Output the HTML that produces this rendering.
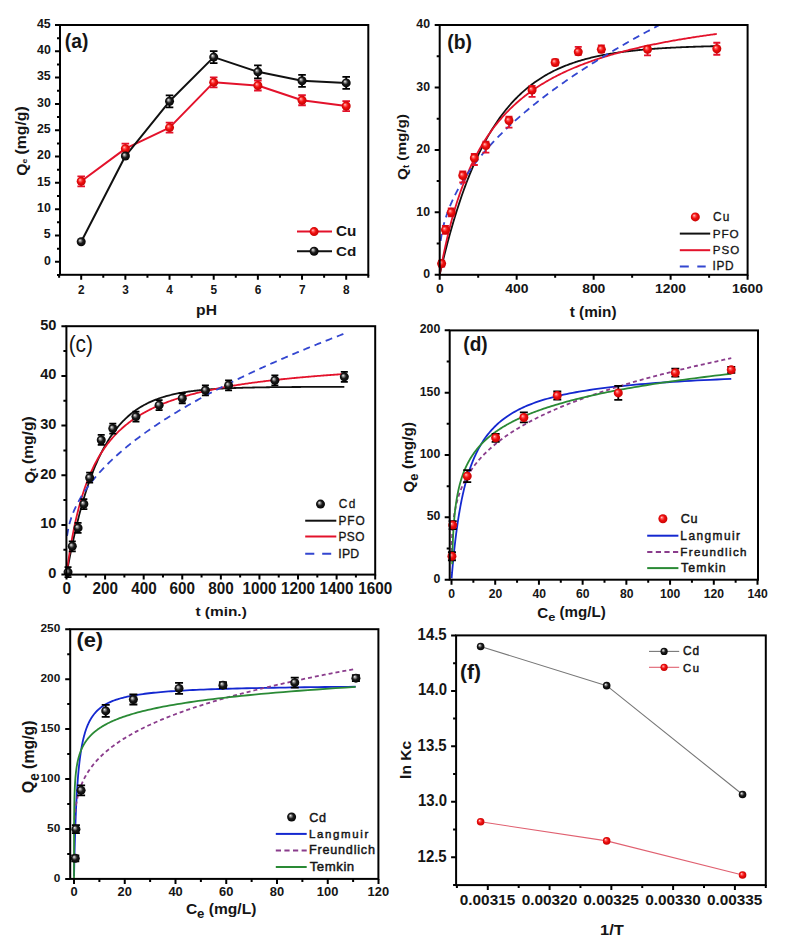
<!DOCTYPE html><html><head><meta charset="utf-8"><style>html,body{margin:0;padding:0;background:#fff;overflow:hidden}svg{display:block}</style></head><body>
<svg width="797" height="945" viewBox="0 0 797 945" font-family='"Liberation Sans", sans-serif'>
<defs>
<radialGradient id="gR" cx="0.5" cy="0.5" r="0.55" fx="0.35" fy="0.33"><stop offset="0" stop-color="#ffd8d0"/><stop offset="0.22" stop-color="#ff6060"/><stop offset="0.5" stop-color="#f01010"/><stop offset="1" stop-color="#c00000"/></radialGradient>
<radialGradient id="gK" cx="0.5" cy="0.5" r="0.55" fx="0.35" fy="0.33"><stop offset="0" stop-color="#f4f4f4"/><stop offset="0.22" stop-color="#909090"/><stop offset="0.5" stop-color="#1c1c1c"/><stop offset="1" stop-color="#000"/></radialGradient>
<clipPath id="clipa"><rect x="60.00" y="25.00" width="308.30" height="249.80"/></clipPath>
<clipPath id="clipb"><rect x="439.70" y="25.00" width="307.90" height="249.80"/></clipPath>
<clipPath id="clipc"><rect x="66.40" y="326.20" width="308.80" height="248.40"/></clipPath>
<clipPath id="clipd"><rect x="449.70" y="330.40" width="308.30" height="249.30"/></clipPath>
<clipPath id="clipe"><rect x="70.20" y="629.20" width="308.20" height="249.70"/></clipPath>
<clipPath id="clipf"><rect x="456.10" y="635.40" width="309.70" height="249.70"/></clipPath>
</defs>
<rect width="797" height="945" fill="#fff"/>
<polyline points="81.20,181.29 125.37,148.66 169.53,127.61 213.70,82.36 257.87,85.52 302.03,100.25 346.20,106.04" fill="none" stroke="#e3122b" stroke-width="2.0" stroke-linejoin="round"/>
<polyline points="81.20,241.80 125.37,156.03 169.53,101.30 213.70,57.10 257.87,71.83 302.03,80.78 346.20,82.88" fill="none" stroke="#111" stroke-width="2.0" stroke-linejoin="round"/>
<path d="M81.20 176.29V186.29M77.40 176.29h7.6M77.40 186.29h7.6" stroke="#e3122b" stroke-width="1.8" fill="none"/>
<circle cx="81.20" cy="181.29" r="4.5" fill="url(#gR)"/>
<path d="M125.37 143.66V153.66M121.57 143.66h7.6M121.57 153.66h7.6" stroke="#e3122b" stroke-width="1.8" fill="none"/>
<circle cx="125.37" cy="148.66" r="4.5" fill="url(#gR)"/>
<path d="M169.53 122.61V132.61M165.73 122.61h7.6M165.73 132.61h7.6" stroke="#e3122b" stroke-width="1.8" fill="none"/>
<circle cx="169.53" cy="127.61" r="4.5" fill="url(#gR)"/>
<path d="M213.70 77.36V87.36M209.90 77.36h7.6M209.90 87.36h7.6" stroke="#e3122b" stroke-width="1.8" fill="none"/>
<circle cx="213.70" cy="82.36" r="4.5" fill="url(#gR)"/>
<path d="M257.87 80.52V90.52M254.07 80.52h7.6M254.07 90.52h7.6" stroke="#e3122b" stroke-width="1.8" fill="none"/>
<circle cx="257.87" cy="85.52" r="4.5" fill="url(#gR)"/>
<path d="M302.03 95.25V105.25M298.23 95.25h7.6M298.23 105.25h7.6" stroke="#e3122b" stroke-width="1.8" fill="none"/>
<circle cx="302.03" cy="100.25" r="4.5" fill="url(#gR)"/>
<path d="M346.20 101.04V111.04M342.40 101.04h7.6M342.40 111.04h7.6" stroke="#e3122b" stroke-width="1.8" fill="none"/>
<circle cx="346.20" cy="106.04" r="4.5" fill="url(#gR)"/>
<circle cx="81.20" cy="241.80" r="4.5" fill="url(#gK)"/>
<circle cx="125.37" cy="156.03" r="4.5" fill="url(#gK)"/>
<path d="M169.53 95.30V107.30M165.73 95.30h7.6M165.73 107.30h7.6" stroke="#000" stroke-width="1.8" fill="none"/>
<circle cx="169.53" cy="101.30" r="4.5" fill="url(#gK)"/>
<path d="M213.70 51.10V63.10M209.90 51.10h7.6M209.90 63.10h7.6" stroke="#000" stroke-width="1.8" fill="none"/>
<circle cx="213.70" cy="57.10" r="4.5" fill="url(#gK)"/>
<path d="M257.87 65.33V78.33M254.07 65.33h7.6M254.07 78.33h7.6" stroke="#000" stroke-width="1.8" fill="none"/>
<circle cx="257.87" cy="71.83" r="4.5" fill="url(#gK)"/>
<path d="M302.03 74.78V86.78M298.23 74.78h7.6M298.23 86.78h7.6" stroke="#000" stroke-width="1.8" fill="none"/>
<circle cx="302.03" cy="80.78" r="4.5" fill="url(#gK)"/>
<path d="M346.20 76.88V88.88M342.40 76.88h7.6M342.40 88.88h7.6" stroke="#000" stroke-width="1.8" fill="none"/>
<circle cx="346.20" cy="82.88" r="4.5" fill="url(#gK)"/>
<rect x="60.00" y="25.00" width="308.30" height="249.80" fill="none" stroke="#000" stroke-width="2.0"/>
<path d="M81.20 274.80v5 M125.37 274.80v5 M169.53 274.80v5 M213.70 274.80v5 M257.87 274.80v5 M302.03 274.80v5 M346.20 274.80v5 M59.12 274.80v3 M103.28 274.80v3 M147.45 274.80v3 M191.62 274.80v3 M235.78 274.80v3 M279.95 274.80v3 M324.12 274.80v3 M368.28 274.80v3 M60.00 261.80h-5 M60.00 235.49h-5 M60.00 209.18h-5 M60.00 182.87h-5 M60.00 156.56h-5 M60.00 130.24h-5 M60.00 103.93h-5 M60.00 77.62h-5 M60.00 51.31h-5 M60.00 25.00h-5 M60.00 274.96h-3 M60.00 248.64h-3 M60.00 222.33h-3 M60.00 196.02h-3 M60.00 169.71h-3 M60.00 143.40h-3 M60.00 117.09h-3 M60.00 90.78h-3 M60.00 64.47h-3 M60.00 38.16h-3" stroke="#000" stroke-width="2.0" fill="none"/>
<path d="M297 231.6H332" stroke="#e3122b" stroke-width="2"/>
<circle cx="314.10" cy="231.60" r="4.5" fill="url(#gR)"/>
<path d="M297 251.2H332" stroke="#111" stroke-width="2"/>
<circle cx="314.10" cy="251.20" r="4.5" fill="url(#gK)"/>
<polyline points="439.70,274.80 440.85,269.78 442.01,264.87 443.16,260.07 444.32,255.37 445.47,250.78 446.63,246.28 447.78,241.89 448.94,237.59 450.09,233.38 451.25,229.27 452.40,225.24 453.56,221.31 454.71,217.46 455.86,213.69 457.02,210.01 458.17,206.40 459.33,202.88 460.48,199.43 461.64,196.06 462.79,192.76 463.95,189.53 465.10,186.37 466.26,183.29 467.41,180.27 468.57,177.31 469.72,174.42 470.87,171.59 472.03,168.83 473.18,166.13 474.34,163.48 475.49,160.89 476.65,158.36 477.80,155.89 478.96,153.46 480.11,151.09 481.27,148.78 482.42,146.51 483.58,144.29 484.73,142.12 485.88,140.00 487.04,137.93 488.19,135.90 489.35,133.91 490.50,131.97 491.66,130.07 492.81,128.21 493.97,126.40 495.12,124.62 496.28,122.88 497.43,121.18 498.59,119.51 499.74,117.89 500.90,116.29 502.05,114.74 503.20,113.21 504.36,111.72 505.51,110.27 506.67,108.84 507.82,107.45 508.98,106.08 510.13,104.75 511.29,103.44 512.44,102.17 513.60,100.92 514.75,99.70 515.91,98.50 517.06,97.33 518.21,96.19 519.37,95.07 520.52,93.98 521.68,92.91 522.83,91.86 523.99,90.84 525.14,89.84 526.30,88.86 527.45,87.90 528.61,86.96 529.76,86.04 530.92,85.15 532.07,84.27 533.22,83.41 534.38,82.57 535.53,81.75 536.69,80.95 537.84,80.16 539.00,79.40 540.15,78.64 541.31,77.91 542.46,77.19 543.62,76.49 544.77,75.80 545.93,75.13 547.08,74.47 548.23,73.82 549.39,73.19 550.54,72.58 551.70,71.98 552.85,71.39 554.01,70.81 555.16,70.25 556.32,69.69 557.47,69.15 558.63,68.63 559.78,68.11 560.94,67.61 562.09,67.11 563.24,66.63 564.40,66.16 565.55,65.69 566.71,65.24 567.86,64.80 569.02,64.37 570.17,63.94 571.33,63.53 572.48,63.12 573.64,62.73 574.79,62.34 575.95,61.96 577.10,61.59 578.25,61.23 579.41,60.87 580.56,60.53 581.72,60.19 582.87,59.85 584.03,59.53 585.18,59.21 586.34,58.90 587.49,58.60 588.65,58.30 589.80,58.01 590.96,57.72 592.11,57.45 593.27,57.17 594.42,56.91 595.57,56.65 596.73,56.39 597.88,56.14 599.04,55.90 600.19,55.66 601.35,55.43 602.50,55.20 603.66,54.98 604.81,54.76 605.97,54.55 607.12,54.34 608.28,54.13 609.43,53.93 610.58,53.74 611.74,53.55 612.89,53.36 614.05,53.18 615.20,53.00 616.36,52.82 617.51,52.65 618.67,52.48 619.82,52.32 620.98,52.16 622.13,52.00 623.29,51.85 624.44,51.70 625.59,51.55 626.75,51.41 627.90,51.27 629.06,51.13 630.21,51.00 631.37,50.87 632.52,50.74 633.68,50.61 634.83,50.49 635.99,50.37 637.14,50.25 638.30,50.14 639.45,50.02 640.60,49.91 641.76,49.81 642.91,49.70 644.07,49.60 645.22,49.50 646.38,49.40 647.53,49.30 648.69,49.21 649.84,49.12 651.00,49.03 652.15,48.94 653.31,48.85 654.46,48.77 655.61,48.68 656.77,48.60 657.92,48.52 659.08,48.45 660.23,48.37 661.39,48.30 662.54,48.22 663.70,48.15 664.85,48.08 666.01,48.02 667.16,47.95 668.32,47.89 669.47,47.82 670.62,47.76 671.78,47.70 672.93,47.64 674.09,47.58 675.24,47.53 676.40,47.47 677.55,47.42 678.71,47.36 679.86,47.31 681.02,47.26 682.17,47.21 683.33,47.16 684.48,47.11 685.64,47.07 686.79,47.02 687.94,46.98 689.10,46.93 690.25,46.89 691.41,46.85 692.56,46.81 693.72,46.77 694.87,46.73 696.03,46.69 697.18,46.66 698.34,46.62 699.49,46.58 700.65,46.55 701.80,46.51 702.95,46.48 704.11,46.45 705.26,46.42 706.42,46.38 707.57,46.35 708.73,46.32 709.88,46.29 711.04,46.27 712.19,46.24 713.35,46.21 714.50,46.18 715.66,46.16 716.81,46.13" fill="none" stroke="#111" stroke-width="1.8" clip-path="url(#clipb)"/>
<polyline points="439.70,274.80 440.85,268.44 442.01,262.35 443.16,256.52 444.32,250.94 445.47,245.59 446.63,240.45 447.78,235.52 448.94,230.77 450.09,226.21 451.25,221.81 452.40,217.58 453.56,213.50 454.71,209.56 455.86,205.76 457.02,202.09 458.17,198.54 459.33,195.10 460.48,191.78 461.64,188.57 462.79,185.45 463.95,182.43 465.10,179.51 466.26,176.67 467.41,173.91 468.57,171.24 469.72,168.64 470.87,166.12 472.03,163.66 473.18,161.27 474.34,158.95 475.49,156.69 476.65,154.49 477.80,152.35 478.96,150.26 480.11,148.23 481.27,146.24 482.42,144.31 483.58,142.42 484.73,140.58 485.88,138.78 487.04,137.03 488.19,135.31 489.35,133.64 490.50,132.00 491.66,130.40 492.81,128.84 493.97,127.31 495.12,125.81 496.28,124.35 497.43,122.91 498.59,121.51 499.74,120.14 500.90,118.79 502.05,117.47 503.20,116.18 504.36,114.92 505.51,113.68 506.67,112.46 507.82,111.27 508.98,110.10 510.13,108.96 511.29,107.83 512.44,106.73 513.60,105.65 514.75,104.58 515.91,103.54 517.06,102.51 518.21,101.51 519.37,100.52 520.52,99.55 521.68,98.59 522.83,97.65 523.99,96.73 525.14,95.83 526.30,94.94 527.45,94.06 528.61,93.20 529.76,92.35 530.92,91.52 532.07,90.70 533.22,89.89 534.38,89.10 535.53,88.31 536.69,87.54 537.84,86.79 539.00,86.04 540.15,85.31 541.31,84.58 542.46,83.87 543.62,83.17 544.77,82.48 545.93,81.80 547.08,81.13 548.23,80.47 549.39,79.81 550.54,79.17 551.70,78.54 552.85,77.91 554.01,77.30 555.16,76.69 556.32,76.09 557.47,75.50 558.63,74.92 559.78,74.34 560.94,73.78 562.09,73.22 563.24,72.67 564.40,72.12 565.55,71.58 566.71,71.05 567.86,70.53 569.02,70.01 570.17,69.50 571.33,69.00 572.48,68.50 573.64,68.01 574.79,67.52 575.95,67.05 577.10,66.57 578.25,66.11 579.41,65.64 580.56,65.19 581.72,64.74 582.87,64.29 584.03,63.85 585.18,63.42 586.34,62.99 587.49,62.56 588.65,62.14 589.80,61.73 590.96,61.32 592.11,60.91 593.27,60.51 594.42,60.11 595.57,59.72 596.73,59.33 597.88,58.95 599.04,58.57 600.19,58.20 601.35,57.82 602.50,57.46 603.66,57.09 604.81,56.74 605.97,56.38 607.12,56.03 608.28,55.68 609.43,55.34 610.58,55.00 611.74,54.66 612.89,54.33 614.05,53.99 615.20,53.67 616.36,53.34 617.51,53.02 618.67,52.71 619.82,52.39 620.98,52.08 622.13,51.78 623.29,51.47 624.44,51.17 625.59,50.87 626.75,50.58 627.90,50.28 629.06,49.99 630.21,49.70 631.37,49.42 632.52,49.14 633.68,48.86 634.83,48.58 635.99,48.31 637.14,48.04 638.30,47.77 639.45,47.50 640.60,47.24 641.76,46.98 642.91,46.72 644.07,46.46 645.22,46.21 646.38,45.95 647.53,45.70 648.69,45.46 649.84,45.21 651.00,44.97 652.15,44.73 653.31,44.49 654.46,44.25 655.61,44.02 656.77,43.78 657.92,43.55 659.08,43.32 660.23,43.10 661.39,42.87 662.54,42.65 663.70,42.43 664.85,42.21 666.01,41.99 667.16,41.77 668.32,41.56 669.47,41.35 670.62,41.14 671.78,40.93 672.93,40.72 674.09,40.51 675.24,40.31 676.40,40.11 677.55,39.91 678.71,39.71 679.86,39.51 681.02,39.32 682.17,39.12 683.33,38.93 684.48,38.74 685.64,38.55 686.79,38.36 687.94,38.17 689.10,37.99 690.25,37.80 691.41,37.62 692.56,37.44 693.72,37.26 694.87,37.08 696.03,36.90 697.18,36.73 698.34,36.55 699.49,36.38 700.65,36.21 701.80,36.04 702.95,35.87 704.11,35.70 705.26,35.53 706.42,35.37 707.57,35.20 708.73,35.04 709.88,34.88 711.04,34.72 712.19,34.56 713.35,34.40 714.50,34.24 715.66,34.09 716.81,33.93" fill="none" stroke="#e3122b" stroke-width="1.8" clip-path="url(#clipb)"/>
<polyline points="440.66,240.77 441.81,233.41 442.96,227.90 444.11,223.31 445.26,219.29 446.42,215.67 447.57,212.35 448.72,209.26 449.87,206.36 451.02,203.62 452.17,201.02 453.32,198.54 454.47,196.16 455.62,193.87 456.77,191.66 457.92,189.52 459.07,187.45 460.22,185.45 461.37,183.49 462.52,181.59 463.67,179.74 464.83,177.93 465.98,176.16 467.13,174.43 468.28,172.73 469.43,171.07 470.58,169.44 471.73,167.84 472.88,166.27 474.03,164.73 475.18,163.21 476.33,161.72 477.48,160.25 478.63,158.80 479.78,157.37 480.93,155.97 482.08,154.58 483.23,153.21 484.39,151.86 485.54,150.53 486.69,149.21 487.84,147.91 488.99,146.63 490.14,145.36 491.29,144.10 492.44,142.86 493.59,141.63 494.74,140.42 495.89,139.21 497.04,138.02 498.19,136.84 499.34,135.68 500.49,134.52 501.64,133.38 502.80,132.24 503.95,131.12 505.10,130.00 506.25,128.90 507.40,127.81 508.55,126.72 509.70,125.64 510.85,124.58 512.00,123.52 513.15,122.47 514.30,121.42 515.45,120.39 516.60,119.36 517.75,118.34 518.90,117.33 520.05,116.33 521.21,115.33 522.36,114.34 523.51,113.36 524.66,112.38 525.81,111.41 526.96,110.45 528.11,109.49 529.26,108.54 530.41,107.60 531.56,106.66 532.71,105.73 533.86,104.80 535.01,103.88 536.16,102.96 537.31,102.05 538.46,101.15 539.62,100.25 540.77,99.35 541.92,98.46 543.07,97.58 544.22,96.70 545.37,95.82 546.52,94.95 547.67,94.09 548.82,93.23 549.97,92.37 551.12,91.52 552.27,90.67 553.42,89.83 554.57,88.99 555.72,88.16 556.87,87.32 558.03,86.50 559.18,85.68 560.33,84.86 561.48,84.04 562.63,83.23 563.78,82.43 564.93,81.62 566.08,80.82 567.23,80.03 568.38,79.23 569.53,78.45 570.68,77.66 571.83,76.88 572.98,76.10 574.13,75.32 575.28,74.55 576.43,73.78 577.59,73.02 578.74,72.26 579.89,71.50 581.04,70.74 582.19,69.99 583.34,69.24 584.49,68.49 585.64,67.75 586.79,67.01 587.94,66.27 589.09,65.53 590.24,64.80 591.39,64.07 592.54,63.35 593.69,62.62 594.84,61.90 596.00,61.18 597.15,60.47 598.30,59.75 599.45,59.04 600.60,58.33 601.75,57.63 602.90,56.92 604.05,56.22 605.20,55.52 606.35,54.83 607.50,54.14 608.65,53.44 609.80,52.76 610.95,52.07 612.10,51.39 613.25,50.70 614.41,50.02 615.56,49.35 616.71,48.67 617.86,48.00 619.01,47.33 620.16,46.66 621.31,45.99 622.46,45.33 623.61,44.67 624.76,44.00 625.91,43.35 627.06,42.69 628.21,42.04 629.36,41.38 630.51,40.73 631.66,40.09 632.82,39.44 633.97,38.80 635.12,38.15 636.27,37.51 637.42,36.87 638.57,36.24 639.72,35.60 640.87,34.97 642.02,34.34 643.17,33.71 644.32,33.08 645.47,32.45 646.62,31.83 647.77,31.21 648.92,30.59 650.07,29.97 651.22,29.35 652.38,28.73 653.53,28.12 654.68,27.51 655.83,26.90 656.98,26.29 658.13,25.68 659.28,25.07 660.43,24.47 661.58,23.87 662.73,23.26 663.88,22.66 665.03,22.07 666.18,21.47 667.33,20.87 668.48,20.28 669.63,19.69 670.79,19.10 671.94,18.51 673.09,17.92 674.24,17.33 675.39,16.75 676.54,16.17 677.69,15.58 678.84,15.00 679.99,14.42 681.14,13.85 682.29,13.27 683.44,12.70 684.59,12.12 685.74,11.55 686.89,10.98 688.04,10.41 689.20,9.84 690.35,9.27 691.50,8.71 692.65,8.14 693.80,7.58 694.95,7.02 696.10,6.46 697.25,5.90 698.40,5.34 699.55,4.78 700.70,4.23 701.85,3.67 703.00,3.12 704.15,2.57 705.30,2.02 706.45,1.47 707.61,0.92 708.76,0.37 709.91,-0.18 711.06,-0.72 712.21,-1.27 713.36,-1.81 714.51,-2.35 715.66,-2.89 716.81,-3.43" fill="none" stroke="#3346d0" stroke-width="1.8" stroke-dasharray="7,5" clip-path="url(#clipb)"/>
<path d="M441.62 260.56V266.56M438.12 260.56h7M438.12 266.56h7" stroke="#e3122b" stroke-width="1.8" fill="none"/>
<circle cx="441.62" cy="263.56" r="4.5" fill="url(#gR)"/>
<path d="M445.47 225.84V233.84M441.97 225.84h7M441.97 233.84h7" stroke="#e3122b" stroke-width="1.8" fill="none"/>
<circle cx="445.47" cy="229.84" r="4.5" fill="url(#gR)"/>
<path d="M451.25 208.35V216.35M447.75 208.35h7M447.75 216.35h7" stroke="#e3122b" stroke-width="1.8" fill="none"/>
<circle cx="451.25" cy="212.35" r="4.5" fill="url(#gR)"/>
<path d="M462.79 171.50V182.50M459.29 171.50h7M459.29 182.50h7" stroke="#e3122b" stroke-width="1.8" fill="none"/>
<circle cx="462.79" cy="175.50" r="4.5" fill="url(#gR)"/>
<path d="M474.34 154.02V165.02M470.84 154.02h7M470.84 165.02h7" stroke="#e3122b" stroke-width="1.8" fill="none"/>
<circle cx="474.34" cy="158.02" r="4.5" fill="url(#gR)"/>
<path d="M485.88 141.53V152.53M482.38 141.53h7M482.38 152.53h7" stroke="#e3122b" stroke-width="1.8" fill="none"/>
<circle cx="485.88" cy="145.53" r="4.5" fill="url(#gR)"/>
<path d="M508.98 116.55V127.55M505.48 116.55h7M505.48 127.55h7" stroke="#e3122b" stroke-width="1.8" fill="none"/>
<circle cx="508.98" cy="120.55" r="4.5" fill="url(#gR)"/>
<path d="M532.07 85.95V96.95M528.57 85.95h7M528.57 96.95h7" stroke="#e3122b" stroke-width="1.8" fill="none"/>
<circle cx="532.07" cy="89.95" r="4.5" fill="url(#gR)"/>
<path d="M555.16 59.47V65.47M551.66 59.47h7M551.66 65.47h7" stroke="#e3122b" stroke-width="1.8" fill="none"/>
<circle cx="555.16" cy="62.47" r="4.5" fill="url(#gR)"/>
<path d="M578.25 46.85V54.85M574.75 46.85h7M574.75 54.85h7" stroke="#e3122b" stroke-width="1.8" fill="none"/>
<circle cx="578.25" cy="51.85" r="4.5" fill="url(#gR)"/>
<path d="M601.35 45.36V52.36M597.85 45.36h7M597.85 52.36h7" stroke="#e3122b" stroke-width="1.8" fill="none"/>
<circle cx="601.35" cy="49.36" r="4.5" fill="url(#gR)"/>
<path d="M647.53 46.36V55.36M644.03 46.36h7M644.03 55.36h7" stroke="#e3122b" stroke-width="1.8" fill="none"/>
<circle cx="647.53" cy="49.36" r="4.5" fill="url(#gR)"/>
<path d="M716.81 42.73V54.73M713.31 42.73h7M713.31 54.73h7" stroke="#e3122b" stroke-width="1.8" fill="none"/>
<circle cx="716.81" cy="48.73" r="4.5" fill="url(#gR)"/>
<rect x="439.70" y="25.00" width="307.90" height="249.80" fill="none" stroke="#000" stroke-width="2.0"/>
<path d="M439.70 274.80v5 M516.67 274.80v5 M593.65 274.80v5 M670.62 274.80v5 M747.60 274.80v5 M478.19 274.80v3 M555.16 274.80v3 M632.14 274.80v3 M709.11 274.80v3 M439.70 274.80h-5 M439.70 212.35h-5 M439.70 149.90h-5 M439.70 87.45h-5 M439.70 25.00h-5 M439.70 243.58h-3 M439.70 181.12h-3 M439.70 118.68h-3 M439.70 56.23h-3" stroke="#000" stroke-width="2.0" fill="none"/>
<circle cx="695.30" cy="216.90" r="4.5" fill="url(#gR)"/>
<path d="M679.8 233.6H710.2" stroke="#111" stroke-width="2"/>
<path d="M679.8 250.2H710.2" stroke="#e3122b" stroke-width="2"/>
<path d="M679.8 266.4H688.8M697.3 266.4H705.7" stroke="#3346d0" stroke-width="2"/>
<polyline points="66.50,574.60 67.66,568.18 68.82,561.97 69.97,555.98 71.13,550.20 72.29,544.61 73.45,539.21 74.60,534.00 75.76,528.97 76.92,524.10 78.08,519.41 79.23,514.87 80.39,510.49 81.55,506.26 82.71,502.18 83.86,498.23 85.02,494.42 86.18,490.74 87.34,487.19 88.49,483.75 89.65,480.44 90.81,477.24 91.97,474.14 93.13,471.16 94.28,468.27 95.44,465.48 96.60,462.79 97.76,460.20 98.91,457.69 100.07,455.26 101.23,452.92 102.39,450.66 103.54,448.48 104.70,446.37 105.86,444.33 107.02,442.36 108.17,440.46 109.33,438.63 110.49,436.85 111.65,435.14 112.80,433.49 113.96,431.89 115.12,430.35 116.28,428.86 117.44,427.42 118.59,426.04 119.75,424.69 120.91,423.40 122.07,422.15 123.22,420.94 124.38,419.77 125.54,418.64 126.70,417.55 127.85,416.50 129.01,415.49 130.17,414.51 131.33,413.56 132.48,412.64 133.64,411.76 134.80,410.91 135.96,410.08 137.12,409.29 138.27,408.52 139.43,407.78 140.59,407.06 141.75,406.37 142.90,405.70 144.06,405.05 145.22,404.43 146.38,403.83 147.53,403.24 148.69,402.68 149.85,402.14 151.01,401.61 152.16,401.11 153.32,400.62 154.48,400.15 155.64,399.69 156.79,399.25 157.95,398.82 159.11,398.41 160.27,398.02 161.43,397.63 162.58,397.26 163.74,396.91 164.90,396.56 166.06,396.23 167.21,395.90 168.37,395.59 169.53,395.29 170.69,395.00 171.84,394.72 173.00,394.45 174.16,394.19 175.32,393.94 176.47,393.69 177.63,393.46 178.79,393.23 179.95,393.01 181.10,392.80 182.26,392.59 183.42,392.40 184.58,392.21 185.74,392.02 186.89,391.84 188.05,391.67 189.21,391.50 190.37,391.34 191.52,391.19 192.68,391.04 193.84,390.89 195.00,390.75 196.15,390.62 197.31,390.49 198.47,390.36 199.63,390.24 200.78,390.12 201.94,390.01 203.10,389.90 204.26,389.80 205.41,389.69 206.57,389.60 207.73,389.50 208.89,389.41 210.05,389.32 211.20,389.23 212.36,389.15 213.52,389.07 214.68,388.99 215.83,388.92 216.99,388.85 218.15,388.78 219.31,388.71 220.46,388.64 221.62,388.58 222.78,388.52 223.94,388.46 225.09,388.41 226.25,388.35 227.41,388.30 228.57,388.25 229.73,388.20 230.88,388.15 232.04,388.11 233.20,388.06 234.36,388.02 235.51,387.98 236.67,387.94 237.83,387.90 238.99,387.86 240.14,387.83 241.30,387.79 242.46,387.76 243.62,387.72 244.77,387.69 245.93,387.66 247.09,387.63 248.25,387.61 249.40,387.58 250.56,387.55 251.72,387.53 252.88,387.50 254.04,387.48 255.19,387.46 256.35,387.43 257.51,387.41 258.67,387.39 259.82,387.37 260.98,387.35 262.14,387.33 263.30,387.32 264.45,387.30 265.61,387.28 266.77,387.27 267.93,387.25 269.08,387.24 270.24,387.22 271.40,387.21 272.56,387.19 273.71,387.18 274.87,387.17 276.03,387.15 277.19,387.14 278.35,387.13 279.50,387.12 280.66,387.11 281.82,387.10 282.98,387.09 284.13,387.08 285.29,387.07 286.45,387.06 287.61,387.05 288.76,387.05 289.92,387.04 291.08,387.03 292.24,387.02 293.39,387.01 294.55,387.01 295.71,387.00 296.87,386.99 298.02,386.99 299.18,386.98 300.34,386.98 301.50,386.97 302.66,386.96 303.81,386.96 304.97,386.95 306.13,386.95 307.29,386.94 308.44,386.94 309.60,386.94 310.76,386.93 311.92,386.93 313.07,386.92 314.23,386.92 315.39,386.92 316.55,386.91 317.70,386.91 318.86,386.90 320.02,386.90 321.18,386.90 322.34,386.90 323.49,386.89 324.65,386.89 325.81,386.89 326.97,386.88 328.12,386.88 329.28,386.88 330.44,386.88 331.60,386.87 332.75,386.87 333.91,386.87 335.07,386.87 336.23,386.87 337.38,386.86 338.54,386.86 339.70,386.86 340.86,386.86 342.01,386.86 343.17,386.86 344.33,386.85" fill="none" stroke="#111" stroke-width="1.8" clip-path="url(#clipc)"/>
<polyline points="66.50,574.60 67.66,565.93 68.82,557.92 69.97,550.49 71.13,543.58 72.29,537.14 73.45,531.12 74.60,525.49 75.76,520.20 76.92,515.22 78.08,510.54 79.23,506.12 80.39,501.94 81.55,497.98 82.71,494.23 83.86,490.67 85.02,487.28 86.18,484.06 87.34,480.99 88.49,478.06 89.65,475.26 90.81,472.59 91.97,470.03 93.13,467.57 94.28,465.22 95.44,462.97 96.60,460.80 97.76,458.72 98.91,456.71 100.07,454.79 101.23,452.93 102.39,451.14 103.54,449.41 104.70,447.74 105.86,446.13 107.02,444.58 108.17,443.07 109.33,441.62 110.49,440.21 111.65,438.84 112.80,437.52 113.96,436.24 115.12,434.99 116.28,433.79 117.44,432.62 118.59,431.48 119.75,430.37 120.91,429.30 122.07,428.25 123.22,427.24 124.38,426.25 125.54,425.28 126.70,424.35 127.85,423.43 129.01,422.54 130.17,421.67 131.33,420.83 132.48,420.00 133.64,419.20 134.80,418.41 135.96,417.64 137.12,416.89 138.27,416.16 139.43,415.44 140.59,414.74 141.75,414.06 142.90,413.39 144.06,412.74 145.22,412.10 146.38,411.47 147.53,410.86 148.69,410.26 149.85,409.67 151.01,409.09 152.16,408.53 153.32,407.98 154.48,407.43 155.64,406.90 156.79,406.38 157.95,405.87 159.11,405.37 160.27,404.88 161.43,404.40 162.58,403.92 163.74,403.46 164.90,403.00 166.06,402.56 167.21,402.12 168.37,401.68 169.53,401.26 170.69,400.84 171.84,400.43 173.00,400.03 174.16,399.64 175.32,399.25 176.47,398.86 177.63,398.49 178.79,398.12 179.95,397.75 181.10,397.40 182.26,397.04 183.42,396.70 184.58,396.35 185.74,396.02 186.89,395.69 188.05,395.36 189.21,395.04 190.37,394.73 191.52,394.42 192.68,394.11 193.84,393.81 195.00,393.51 196.15,393.22 197.31,392.93 198.47,392.64 199.63,392.36 200.78,392.09 201.94,391.81 203.10,391.55 204.26,391.28 205.41,391.02 206.57,390.76 207.73,390.51 208.89,390.26 210.05,390.01 211.20,389.77 212.36,389.53 213.52,389.29 214.68,389.05 215.83,388.82 216.99,388.59 218.15,388.37 219.31,388.15 220.46,387.93 221.62,387.71 222.78,387.49 223.94,387.28 225.09,387.07 226.25,386.87 227.41,386.66 228.57,386.46 229.73,386.26 230.88,386.07 232.04,385.87 233.20,385.68 234.36,385.49 235.51,385.30 236.67,385.12 237.83,384.93 238.99,384.75 240.14,384.57 241.30,384.40 242.46,384.22 243.62,384.05 244.77,383.88 245.93,383.71 247.09,383.54 248.25,383.38 249.40,383.21 250.56,383.05 251.72,382.89 252.88,382.73 254.04,382.58 255.19,382.42 256.35,382.27 257.51,382.12 258.67,381.97 259.82,381.82 260.98,381.67 262.14,381.53 263.30,381.38 264.45,381.24 265.61,381.10 266.77,380.96 267.93,380.82 269.08,380.68 270.24,380.55 271.40,380.41 272.56,380.28 273.71,380.15 274.87,380.02 276.03,379.89 277.19,379.76 278.35,379.64 279.50,379.51 280.66,379.39 281.82,379.26 282.98,379.14 284.13,379.02 285.29,378.90 286.45,378.78 287.61,378.67 288.76,378.55 289.92,378.44 291.08,378.32 292.24,378.21 293.39,378.10 294.55,377.99 295.71,377.88 296.87,377.77 298.02,377.66 299.18,377.55 300.34,377.45 301.50,377.34 302.66,377.24 303.81,377.13 304.97,377.03 306.13,376.93 307.29,376.83 308.44,376.73 309.60,376.63 310.76,376.53 311.92,376.43 313.07,376.34 314.23,376.24 315.39,376.15 316.55,376.05 317.70,375.96 318.86,375.87 320.02,375.78 321.18,375.68 322.34,375.59 323.49,375.50 324.65,375.42 325.81,375.33 326.97,375.24 328.12,375.15 329.28,375.07 330.44,374.98 331.60,374.90 332.75,374.81 333.91,374.73 335.07,374.65 336.23,374.57 337.38,374.48 338.54,374.40 339.70,374.32 340.86,374.24 342.01,374.17 343.17,374.09 344.33,374.01" fill="none" stroke="#e3122b" stroke-width="1.8" clip-path="url(#clipc)"/>
<polyline points="67.08,535.87 68.47,527.72 69.85,522.26 71.24,517.87 72.62,514.08 74.01,510.70 75.40,507.62 76.78,504.77 78.17,502.11 79.56,499.60 80.94,497.23 82.33,494.96 83.71,492.79 85.10,490.71 86.49,488.70 87.87,486.77 89.26,484.89 90.65,483.07 92.03,481.30 93.42,479.58 94.80,477.90 96.19,476.27 97.58,474.67 98.96,473.10 100.35,471.57 101.74,470.08 103.12,468.61 104.51,467.16 105.89,465.75 107.28,464.35 108.67,462.99 110.05,461.64 111.44,460.32 112.83,459.01 114.21,457.73 115.60,456.46 116.98,455.21 118.37,453.98 119.76,452.76 121.14,451.56 122.53,450.38 123.92,449.21 125.30,448.05 126.69,446.91 128.07,445.78 129.46,444.66 130.85,443.56 132.23,442.47 133.62,441.39 135.01,440.32 136.39,439.26 137.78,438.21 139.16,437.17 140.55,436.14 141.94,435.12 143.32,434.11 144.71,433.11 146.10,432.12 147.48,431.14 148.87,430.16 150.25,429.19 151.64,428.23 153.03,427.28 154.41,426.34 155.80,425.40 157.19,424.48 158.57,423.55 159.96,422.64 161.34,421.73 162.73,420.83 164.12,419.93 165.50,419.05 166.89,418.16 168.28,417.29 169.66,416.42 171.05,415.55 172.43,414.69 173.82,413.84 175.21,412.99 176.59,412.15 177.98,411.31 179.37,410.48 180.75,409.65 182.14,408.83 183.52,408.01 184.91,407.20 186.30,406.39 187.68,405.59 189.07,404.79 190.46,404.00 191.84,403.21 193.23,402.43 194.61,401.64 196.00,400.87 197.39,400.10 198.77,399.33 200.16,398.56 201.55,397.80 202.93,397.05 204.32,396.29 205.70,395.55 207.09,394.80 208.48,394.06 209.86,393.32 211.25,392.59 212.64,391.86 214.02,391.13 215.41,390.41 216.79,389.69 218.18,388.97 219.57,388.25 220.95,387.54 222.34,386.84 223.73,386.13 225.11,385.43 226.50,384.73 227.88,384.04 229.27,383.35 230.66,382.66 232.04,381.97 233.43,381.29 234.82,380.61 236.20,379.93 237.59,379.25 238.97,378.58 240.36,377.91 241.75,377.24 243.13,376.58 244.52,375.92 245.91,375.26 247.29,374.60 248.68,373.95 250.06,373.30 251.45,372.65 252.84,372.00 254.22,371.36 255.61,370.72 257.00,370.08 258.38,369.44 259.77,368.80 261.15,368.17 262.54,367.54 263.93,366.91 265.31,366.29 266.70,365.66 268.09,365.04 269.47,364.42 270.86,363.80 272.24,363.19 273.63,362.57 275.02,361.96 276.40,361.35 277.79,360.75 279.18,360.14 280.56,359.54 281.95,358.94 283.33,358.34 284.72,357.74 286.11,357.15 287.49,356.55 288.88,355.96 290.27,355.37 291.65,354.78 293.04,354.20 294.42,353.61 295.81,353.03 297.20,352.45 298.58,351.87 299.97,351.29 301.36,350.71 302.74,350.14 304.13,349.57 305.51,349.00 306.90,348.43 308.29,347.86 309.67,347.29 311.06,346.73 312.45,346.17 313.83,345.61 315.22,345.05 316.60,344.49 317.99,343.93 319.38,343.38 320.76,342.82 322.15,342.27 323.54,341.72 324.92,341.17 326.31,340.63 327.69,340.08 329.08,339.54 330.47,338.99 331.85,338.45 333.24,337.91 334.63,337.37 336.01,336.83 337.40,336.30 338.78,335.76 340.17,335.23 341.56,334.70 342.94,334.17 344.33,333.64" fill="none" stroke="#3346d0" stroke-width="1.8" stroke-dasharray="7,5" clip-path="url(#clipc)"/>
<path d="M68.04 567.12V577.12M64.54 567.12h7.0M64.54 577.12h7.0" stroke="#000" stroke-width="1.8" fill="none"/>
<circle cx="68.04" cy="572.12" r="4.5" fill="url(#gK)"/>
<path d="M72.29 541.28V551.28M68.79 541.28h7.0M68.79 551.28h7.0" stroke="#000" stroke-width="1.8" fill="none"/>
<circle cx="72.29" cy="546.28" r="4.5" fill="url(#gK)"/>
<path d="M78.08 522.90V532.90M74.58 522.90h7.0M74.58 532.90h7.0" stroke="#000" stroke-width="1.8" fill="none"/>
<circle cx="78.08" cy="527.90" r="4.5" fill="url(#gK)"/>
<path d="M83.86 499.05V509.05M80.36 499.05h7.0M80.36 509.05h7.0" stroke="#000" stroke-width="1.8" fill="none"/>
<circle cx="83.86" cy="504.05" r="4.5" fill="url(#gK)"/>
<path d="M89.65 472.72V482.72M86.15 472.72h7.0M86.15 482.72h7.0" stroke="#000" stroke-width="1.8" fill="none"/>
<circle cx="89.65" cy="477.72" r="4.5" fill="url(#gK)"/>
<path d="M101.23 434.97V444.97M97.73 434.97h7.0M97.73 444.97h7.0" stroke="#000" stroke-width="1.8" fill="none"/>
<circle cx="101.23" cy="439.97" r="4.5" fill="url(#gK)"/>
<path d="M112.80 423.54V433.54M109.30 423.54h7.0M109.30 433.54h7.0" stroke="#000" stroke-width="1.8" fill="none"/>
<circle cx="112.80" cy="428.54" r="4.5" fill="url(#gK)"/>
<path d="M135.96 411.62V421.62M132.46 411.62h7.0M132.46 421.62h7.0" stroke="#000" stroke-width="1.8" fill="none"/>
<circle cx="135.96" cy="416.62" r="4.5" fill="url(#gK)"/>
<path d="M159.11 400.19V410.19M155.61 400.19h7.0M155.61 410.19h7.0" stroke="#000" stroke-width="1.8" fill="none"/>
<circle cx="159.11" cy="405.19" r="4.5" fill="url(#gK)"/>
<path d="M182.26 393.24V403.24M178.76 393.24h7.0M178.76 403.24h7.0" stroke="#000" stroke-width="1.8" fill="none"/>
<circle cx="182.26" cy="398.24" r="4.5" fill="url(#gK)"/>
<path d="M205.41 385.29V395.29M201.91 385.29h7.0M201.91 395.29h7.0" stroke="#000" stroke-width="1.8" fill="none"/>
<circle cx="205.41" cy="390.29" r="4.5" fill="url(#gK)"/>
<path d="M228.57 380.32V390.32M225.07 380.32h7.0M225.07 390.32h7.0" stroke="#000" stroke-width="1.8" fill="none"/>
<circle cx="228.57" cy="385.32" r="4.5" fill="url(#gK)"/>
<path d="M274.87 375.35V385.35M271.37 375.35h7.0M271.37 385.35h7.0" stroke="#000" stroke-width="1.8" fill="none"/>
<circle cx="274.87" cy="380.35" r="4.5" fill="url(#gK)"/>
<path d="M344.33 371.87V381.87M340.83 371.87h7.0M340.83 381.87h7.0" stroke="#000" stroke-width="1.8" fill="none"/>
<circle cx="344.33" cy="376.87" r="4.5" fill="url(#gK)"/>
<rect x="66.40" y="326.20" width="308.80" height="248.40" fill="none" stroke="#000" stroke-width="2.0"/>
<path d="M66.50 574.60v5 M105.09 574.60v5 M143.68 574.60v5 M182.26 574.60v5 M220.85 574.60v5 M259.44 574.60v5 M298.02 574.60v5 M336.61 574.60v5 M375.20 574.60v5 M85.79 574.60v3 M124.38 574.60v3 M162.97 574.60v3 M201.56 574.60v3 M240.14 574.60v3 M278.73 574.60v3 M317.32 574.60v3 M355.91 574.60v3 M66.40 574.60h-5 M66.40 524.92h-5 M66.40 475.24h-5 M66.40 425.56h-5 M66.40 375.88h-5 M66.40 326.20h-5 M66.40 549.76h-3 M66.40 500.08h-3 M66.40 450.40h-3 M66.40 400.72h-3 M66.40 351.04h-3" stroke="#000" stroke-width="2.0" fill="none"/>
<circle cx="320.50" cy="504.10" r="4.5" fill="url(#gK)"/>
<path d="M305.2 520.7H336.3" stroke="#111" stroke-width="2"/>
<path d="M305.2 536.5H336.3" stroke="#e3122b" stroke-width="2"/>
<path d="M305.2 553.8H314.3M322.2 553.8H331.2" stroke="#3346d0" stroke-width="2"/>
<polyline points="451.61,578.34 451.61,578.30 451.62,578.26 451.62,578.22 451.62,578.19 451.62,578.15 451.63,578.10 451.63,578.06 451.63,578.02 451.64,577.98 451.64,577.93 451.65,577.88 451.65,577.84 451.65,577.79 451.66,577.74 451.66,577.69 451.67,577.63 451.67,577.58 451.68,577.52 451.68,577.47 451.68,577.41 451.69,577.35 451.69,577.29 451.70,577.22 451.70,577.16 451.71,577.09 451.72,577.02 451.72,576.95 451.73,576.88 451.73,576.81 451.74,576.73 451.75,576.65 451.75,576.57 451.76,576.49 451.77,576.41 451.77,576.32 451.78,576.23 451.79,576.14 451.80,576.05 451.80,575.96 451.81,575.86 451.82,575.76 451.83,575.66 451.84,575.55 451.85,575.44 451.85,575.33 451.86,575.22 451.87,575.10 451.88,574.98 451.89,574.86 451.90,574.74 451.91,574.61 451.93,574.48 451.94,574.34 451.95,574.20 451.96,574.06 451.97,573.92 451.99,573.77 452.00,573.62 452.01,573.46 452.03,573.30 452.04,573.13 452.05,572.97 452.07,572.79 452.08,572.62 452.10,572.43 452.11,572.25 452.13,572.06 452.15,571.86 452.16,571.66 452.18,571.46 452.20,571.25 452.22,571.03 452.24,570.81 452.26,570.59 452.28,570.36 452.30,570.12 452.32,569.88 452.34,569.63 452.36,569.38 452.39,569.12 452.41,568.85 452.43,568.58 452.46,568.30 452.48,568.01 452.51,567.72 452.54,567.42 452.56,567.12 452.59,566.80 452.62,566.48 452.65,566.15 452.68,565.82 452.71,565.47 452.74,565.12 452.78,564.76 452.81,564.40 452.85,564.02 452.88,563.64 452.92,563.24 452.96,562.84 453.00,562.43 453.03,562.01 453.08,561.58 453.12,561.14 453.16,560.70 453.20,560.24 453.25,559.77 453.30,559.29 453.34,558.81 453.39,558.31 453.44,557.80 453.49,557.28 453.55,556.75 453.60,556.21 453.66,555.66 453.71,555.09 453.77,554.52 453.83,553.93 453.89,553.33 453.96,552.72 454.02,552.10 454.09,551.46 454.16,550.82 454.23,550.16 454.30,549.49 454.38,548.80 454.45,548.10 454.53,547.39 454.61,546.67 454.69,545.93 454.78,545.18 454.86,544.42 454.95,543.64 455.04,542.85 455.14,542.05 455.23,541.23 455.33,540.40 455.44,539.55 455.54,538.70 455.65,537.82 455.76,536.93 455.87,536.03 455.99,535.12 456.10,534.19 456.23,533.25 456.35,532.29 456.48,531.32 456.61,530.33 456.75,529.33 456.89,528.32 457.03,527.29 457.18,526.25 457.33,525.20 457.48,524.13 457.64,523.05 457.80,521.96 457.97,520.85 458.14,519.73 458.32,518.60 458.50,517.45 458.68,516.29 458.87,515.12 459.07,513.94 459.27,512.74 459.48,511.53 459.69,510.32 459.90,509.09 460.13,507.85 460.35,506.60 460.59,505.33 460.83,504.06 461.08,502.78 461.33,501.49 461.59,500.19 461.86,498.89 462.13,497.57 462.42,496.25 462.71,494.92 463.00,493.58 463.31,492.23 463.62,490.88 463.94,489.52 464.27,488.16 464.61,486.79 464.96,485.42 465.31,484.04 465.68,482.66 466.06,481.28 466.44,479.89 466.84,478.50 467.24,477.11 467.66,475.72 468.09,474.33 468.53,472.94 468.98,471.54 469.44,470.15 469.92,468.76 470.41,467.37 470.91,465.98 471.42,464.60 471.95,463.22 472.49,461.84 473.05,460.46 473.62,459.09 474.21,457.73 474.81,456.36 475.43,455.01 476.06,453.66 476.71,452.32 477.38,450.98 478.07,449.65 478.77,448.33 479.49,447.02 480.24,445.72 481.00,444.42 481.78,443.13 482.58,441.86 483.40,440.59 484.25,439.33 485.12,438.09 486.01,436.85 486.92,435.62 487.86,434.41 488.83,433.21 489.82,432.02 490.83,430.84 491.87,429.67 492.94,428.52 494.04,427.38 495.17,426.25 496.33,425.13 497.52,424.03 498.74,422.94 499.99,421.87 501.27,420.80 502.59,419.75 503.95,418.72 505.34,417.70 506.76,416.69 508.23,415.70 509.73,414.72 511.27,413.75 512.86,412.80 514.49,411.86 516.15,410.94 517.87,410.03 519.63,409.13 521.43,408.25 523.29,407.38 525.19,406.53 527.14,405.69 529.15,404.86 531.20,404.05 533.32,403.25 535.49,402.47 537.71,401.70 540.00,400.94 542.34,400.19 544.75,399.46 547.22,398.74 549.76,398.04 552.36,397.35 555.04,396.67 557.78,396.00 560.60,395.34 563.49,394.70 566.46,394.07 569.50,393.45 572.63,392.85 575.84,392.25 579.14,391.67 582.52,391.10 585.99,390.54 589.56,389.99 593.22,389.46 596.97,388.93 600.83,388.42 604.79,387.91 608.85,387.42 613.02,386.93 617.30,386.46 621.70,386.00 626.21,385.54 630.84,385.10 635.59,384.66 640.47,384.24 645.48,383.82 650.62,383.41 655.90,383.02 661.31,382.63 666.88,382.25 672.58,381.87 678.44,381.51 684.46,381.15 690.63,380.80 696.97,380.46 703.48,380.13 710.16,379.81 717.01,379.49 724.05,379.18 731.27,378.87" fill="none" stroke="#1428d0" stroke-width="1.8" clip-path="url(#clipd)"/>
<polyline points="451.61,552.02 451.61,551.83 451.62,551.63 451.62,551.44 451.62,551.24 451.62,551.04 451.63,550.84 451.63,550.64 451.63,550.44 451.64,550.24 451.64,550.03 451.65,549.83 451.65,549.62 451.65,549.41 451.66,549.20 451.66,548.99 451.67,548.77 451.67,548.56 451.68,548.34 451.68,548.12 451.68,547.90 451.69,547.68 451.69,547.46 451.70,547.23 451.70,547.01 451.71,546.78 451.72,546.55 451.72,546.32 451.73,546.09 451.73,545.86 451.74,545.62 451.75,545.38 451.75,545.14 451.76,544.90 451.77,544.66 451.77,544.42 451.78,544.17 451.79,543.93 451.80,543.68 451.80,543.43 451.81,543.17 451.82,542.92 451.83,542.66 451.84,542.41 451.85,542.15 451.85,541.89 451.86,541.62 451.87,541.36 451.88,541.09 451.89,540.82 451.90,540.55 451.91,540.28 451.93,540.01 451.94,539.73 451.95,539.45 451.96,539.17 451.97,538.89 451.99,538.61 452.00,538.32 452.01,538.03 452.03,537.74 452.04,537.45 452.05,537.16 452.07,536.86 452.08,536.56 452.10,536.26 452.11,535.96 452.13,535.66 452.15,535.35 452.16,535.04 452.18,534.73 452.20,534.42 452.22,534.10 452.24,533.79 452.26,533.47 452.28,533.14 452.30,532.82 452.32,532.49 452.34,532.17 452.36,531.84 452.39,531.50 452.41,531.17 452.43,530.83 452.46,530.49 452.48,530.15 452.51,529.80 452.54,529.46 452.56,529.11 452.59,528.75 452.62,528.40 452.65,528.04 452.68,527.68 452.71,527.32 452.74,526.96 452.78,526.59 452.81,526.22 452.85,525.85 452.88,525.47 452.92,525.10 452.96,524.72 453.00,524.33 453.03,523.95 453.08,523.56 453.12,523.17 453.16,522.78 453.20,522.38 453.25,521.98 453.30,521.58 453.34,521.18 453.39,520.77 453.44,520.36 453.49,519.95 453.55,519.53 453.60,519.11 453.66,518.69 453.71,518.27 453.77,517.84 453.83,517.41 453.89,516.98 453.96,516.54 454.02,516.10 454.09,515.66 454.16,515.21 454.23,514.76 454.30,514.31 454.38,513.86 454.45,513.40 454.53,512.94 454.61,512.47 454.69,512.01 454.78,511.54 454.86,511.06 454.95,510.58 455.04,510.10 455.14,509.62 455.23,509.13 455.33,508.64 455.44,508.15 455.54,507.65 455.65,507.15 455.76,506.64 455.87,506.13 455.99,505.62 456.10,505.11 456.23,504.59 456.35,504.07 456.48,503.54 456.61,503.01 456.75,502.48 456.89,501.94 457.03,501.40 457.18,500.85 457.33,500.31 457.48,499.75 457.64,499.20 457.80,498.64 457.97,498.07 458.14,497.51 458.32,496.93 458.50,496.36 458.68,495.78 458.87,495.19 459.07,494.61 459.27,494.02 459.48,493.42 459.69,492.82 459.90,492.21 460.13,491.61 460.35,490.99 460.59,490.38 460.83,489.75 461.08,489.13 461.33,488.50 461.59,487.86 461.86,487.23 462.13,486.58 462.42,485.93 462.71,485.28 463.00,484.63 463.31,483.96 463.62,483.30 463.94,482.63 464.27,481.95 464.61,481.27 464.96,480.59 465.31,479.90 465.68,479.20 466.06,478.50 466.44,477.80 466.84,477.09 467.24,476.38 467.66,475.66 468.09,474.94 468.53,474.21 468.98,473.47 469.44,472.73 469.92,471.99 470.41,471.24 470.91,470.49 471.42,469.73 471.95,468.96 472.49,468.19 473.05,467.42 473.62,466.63 474.21,465.85 474.81,465.06 475.43,464.26 476.06,463.46 476.71,462.65 477.38,461.83 478.07,461.01 478.77,460.19 479.49,459.36 480.24,458.52 481.00,457.68 481.78,456.83 482.58,455.97 483.40,455.11 484.25,454.24 485.12,453.37 486.01,452.49 486.92,451.61 487.86,450.72 488.83,449.82 489.82,448.92 490.83,448.01 491.87,447.09 492.94,446.17 494.04,445.24 495.17,444.30 496.33,443.36 497.52,442.41 498.74,441.46 499.99,440.50 501.27,439.53 502.59,438.55 503.95,437.57 505.34,436.58 506.76,435.59 508.23,434.59 509.73,433.58 511.27,432.56 512.86,431.54 514.49,430.51 516.15,429.47 517.87,428.42 519.63,427.37 521.43,426.31 523.29,425.24 525.19,424.17 527.14,423.09 529.15,422.00 531.20,420.90 533.32,419.80 535.49,418.68 537.71,417.56 540.00,416.44 542.34,415.30 544.75,414.16 547.22,413.00 549.76,411.85 552.36,410.68 555.04,409.50 557.78,408.32 560.60,407.13 563.49,405.93 566.46,404.72 569.50,403.50 572.63,402.27 575.84,401.04 579.14,399.80 582.52,398.54 585.99,397.28 589.56,396.02 593.22,394.74 596.97,393.45 600.83,392.16 604.79,390.85 608.85,389.54 613.02,388.21 617.30,386.88 621.70,385.54 626.21,384.19 630.84,382.83 635.59,381.46 640.47,380.08 645.48,378.69 650.62,377.30 655.90,375.89 661.31,374.47 666.88,373.04 672.58,371.60 678.44,370.16 684.46,368.70 690.63,367.23 696.97,365.75 703.48,364.27 710.16,362.77 717.01,361.26 724.05,359.74 731.27,358.21" fill="none" stroke="#8a3c8c" stroke-width="1.8" stroke-dasharray="4,3" clip-path="url(#clipd)"/>
<polyline points="452.16,564.14 452.17,563.50 452.18,562.87 452.20,562.23 452.21,561.60 452.23,560.96 452.24,560.33 452.26,559.69 452.27,559.06 452.29,558.43 452.30,557.79 452.32,557.16 452.34,556.52 452.35,555.89 452.37,555.25 452.39,554.62 452.41,553.99 452.42,553.35 452.44,552.72 452.46,552.08 452.48,551.45 452.50,550.81 452.52,550.18 452.54,549.55 452.56,548.91 452.59,548.28 452.61,547.64 452.63,547.01 452.65,546.37 452.68,545.74 452.70,545.10 452.73,544.47 452.75,543.84 452.78,543.20 452.80,542.57 452.83,541.93 452.86,541.30 452.88,540.66 452.91,540.03 452.94,539.40 452.97,538.76 453.00,538.13 453.03,537.49 453.06,536.86 453.09,536.22 453.13,535.59 453.16,534.96 453.19,534.32 453.23,533.69 453.26,533.05 453.30,532.42 453.34,531.78 453.37,531.15 453.41,530.51 453.45,529.88 453.49,529.25 453.53,528.61 453.57,527.98 453.61,527.34 453.66,526.71 453.70,526.07 453.75,525.44 453.79,524.81 453.84,524.17 453.89,523.54 453.94,522.90 453.99,522.27 454.04,521.63 454.09,521.00 454.14,520.36 454.19,519.73 454.25,519.10 454.31,518.46 454.36,517.83 454.42,517.19 454.48,516.56 454.54,515.92 454.60,515.29 454.67,514.66 454.73,514.02 454.80,513.39 454.86,512.75 454.93,512.12 455.00,511.48 455.07,510.85 455.15,510.22 455.22,509.58 455.30,508.95 455.37,508.31 455.45,507.68 455.53,507.04 455.62,506.41 455.70,505.77 455.79,505.14 455.87,504.51 455.96,503.87 456.05,503.24 456.15,502.60 456.24,501.97 456.34,501.33 456.44,500.70 456.54,500.07 456.64,499.43 456.74,498.80 456.85,498.16 456.96,497.53 457.07,496.89 457.19,496.26 457.30,495.63 457.42,494.99 457.54,494.36 457.66,493.72 457.79,493.09 457.92,492.45 458.05,491.82 458.18,491.18 458.32,490.55 458.46,489.92 458.60,489.28 458.74,488.65 458.89,488.01 459.04,487.38 459.20,486.74 459.35,486.11 459.51,485.48 459.68,484.84 459.84,484.21 460.01,483.57 460.19,482.94 460.36,482.30 460.55,481.67 460.73,481.03 460.92,480.40 461.11,479.77 461.31,479.13 461.51,478.50 461.71,477.86 461.92,477.23 462.13,476.59 462.35,475.96 462.57,475.33 462.79,474.69 463.02,474.06 463.26,473.42 463.50,472.79 463.74,472.15 463.99,471.52 464.25,470.89 464.51,470.25 464.77,469.62 465.04,468.98 465.32,468.35 465.60,467.71 465.89,467.08 466.18,466.44 466.48,465.81 466.79,465.18 467.10,464.54 467.42,463.91 467.74,463.27 468.07,462.64 468.41,462.00 468.76,461.37 469.11,460.74 469.47,460.10 469.83,459.47 470.21,458.83 470.59,458.20 470.98,457.56 471.38,456.93 471.78,456.30 472.19,455.66 472.62,455.03 473.05,454.39 473.49,453.76 473.94,453.12 474.39,452.49 474.86,451.85 475.34,451.22 475.82,450.59 476.32,449.95 476.82,449.32 477.34,448.68 477.87,448.05 478.41,447.41 478.95,446.78 479.51,446.15 480.08,445.51 480.67,444.88 481.26,444.24 481.87,443.61 482.49,442.97 483.12,442.34 483.77,441.70 484.42,441.07 485.09,440.44 485.78,439.80 486.48,439.17 487.19,438.53 487.92,437.90 488.66,437.26 489.42,436.63 490.19,436.00 490.98,435.36 491.79,434.73 492.61,434.09 493.45,433.46 494.30,432.82 495.18,432.19 496.07,431.56 496.98,430.92 497.90,430.29 498.85,429.65 499.81,429.02 500.80,428.38 501.81,427.75 502.83,427.11 503.88,426.48 504.95,425.85 506.04,425.21 507.15,424.58 508.28,423.94 509.44,423.31 510.62,422.67 511.83,422.04 513.06,421.41 514.31,420.77 515.59,420.14 516.90,419.50 518.23,418.87 519.60,418.23 520.98,417.60 522.40,416.97 523.85,416.33 525.32,415.70 526.83,415.06 528.36,414.43 529.93,413.79 531.53,413.16 533.16,412.52 534.83,411.89 536.53,411.26 538.26,410.62 540.03,409.99 541.83,409.35 543.68,408.72 545.56,408.08 547.47,407.45 549.43,406.82 551.43,406.18 553.47,405.55 555.55,404.91 557.67,404.28 559.83,403.64 562.04,403.01 564.30,402.37 566.60,401.74 568.94,401.11 571.34,400.47 573.78,399.84 576.27,399.20 578.82,398.57 581.41,397.93 584.06,397.30 586.77,396.67 589.53,396.03 592.34,395.40 595.21,394.76 598.14,394.13 601.13,393.49 604.18,392.86 607.30,392.23 610.47,391.59 613.72,390.96 617.02,390.32 620.40,389.69 623.84,389.05 627.36,388.42 630.94,387.78 634.60,387.15 638.34,386.52 642.15,385.88 646.04,385.25 650.00,384.61 654.05,383.98 658.18,383.34 662.39,382.71 666.70,382.08 671.08,381.44 675.56,380.81 680.13,380.17 684.79,379.54 689.55,378.90 694.40,378.27 699.36,377.64 704.41,377.00 709.57,376.37 714.83,375.73 720.20,375.10 725.68,374.46 731.27,373.83" fill="none" stroke="#2a8a35" stroke-width="1.8" clip-path="url(#clipd)"/>
<path d="M451.94 552.26V560.26M447.94 552.26h8M447.94 560.26h8" stroke="#000" stroke-width="1.8" fill="none"/>
<circle cx="451.94" cy="556.26" r="4.5" fill="url(#gR)"/>
<path d="M452.70 521.08V529.08M448.70 521.08h8M448.70 529.08h8" stroke="#000" stroke-width="1.8" fill="none"/>
<circle cx="452.70" cy="525.08" r="4.5" fill="url(#gR)"/>
<path d="M467.24 470.07V482.07M463.24 470.07h8M463.24 482.07h8" stroke="#000" stroke-width="1.8" fill="none"/>
<circle cx="467.24" cy="476.07" r="4.5" fill="url(#gR)"/>
<path d="M495.65 433.79V441.79M491.65 433.79h8M491.65 441.79h8" stroke="#000" stroke-width="1.8" fill="none"/>
<circle cx="495.65" cy="437.79" r="4.5" fill="url(#gR)"/>
<path d="M523.85 412.47V422.47M519.85 412.47h8M519.85 422.47h8" stroke="#000" stroke-width="1.8" fill="none"/>
<circle cx="523.85" cy="417.47" r="4.5" fill="url(#gR)"/>
<path d="M557.29 391.52V399.52M553.29 391.52h8M553.29 399.52h8" stroke="#000" stroke-width="1.8" fill="none"/>
<circle cx="557.29" cy="395.52" r="4.5" fill="url(#gR)"/>
<path d="M618.27 385.90V399.90M614.27 385.90h8M614.27 399.90h8" stroke="#000" stroke-width="1.8" fill="none"/>
<circle cx="618.27" cy="392.90" r="4.5" fill="url(#gR)"/>
<path d="M675.32 368.70V376.70M671.32 368.70h8M671.32 376.70h8" stroke="#000" stroke-width="1.8" fill="none"/>
<circle cx="675.32" cy="372.70" r="4.5" fill="url(#gR)"/>
<path d="M731.27 366.83V372.83M727.27 366.83h8M727.27 372.83h8" stroke="#000" stroke-width="1.8" fill="none"/>
<circle cx="731.27" cy="369.83" r="4.5" fill="url(#gR)"/>
<rect x="449.70" y="330.40" width="308.30" height="249.30" fill="none" stroke="#000" stroke-width="2.0"/>
<path d="M451.50 579.70v5 M495.21 579.70v5 M538.93 579.70v5 M582.64 579.70v5 M626.36 579.70v5 M670.07 579.70v5 M713.79 579.70v5 M757.50 579.70v5 M473.36 579.70v3 M517.07 579.70v3 M560.79 579.70v3 M604.50 579.70v3 M648.21 579.70v3 M691.93 579.70v3 M735.64 579.70v3 M449.70 579.70h-5 M449.70 517.35h-5 M449.70 455.00h-5 M449.70 392.65h-5 M449.70 330.30h-5 M449.70 548.53h-3 M449.70 486.18h-3 M449.70 423.83h-3 M449.70 361.48h-3" stroke="#000" stroke-width="2.0" fill="none"/>
<circle cx="662.90" cy="518.80" r="4.5" fill="url(#gR)"/>
<path d="M647.2 535.7H678.4" stroke="#1428d0" stroke-width="2"/>
<path d="M647.2 551.9H678.4" stroke="#8a3c8c" stroke-width="2" stroke-dasharray="5.2,3.4"/>
<path d="M647.2 568.1H678.4" stroke="#2a8a35" stroke-width="2"/>
<polyline points="74.05,876.23 74.05,876.15 74.05,876.07 74.06,875.99 74.06,875.91 74.06,875.82 74.06,875.73 74.06,875.64 74.06,875.55 74.07,875.45 74.07,875.35 74.07,875.25 74.07,875.15 74.07,875.04 74.08,874.93 74.08,874.82 74.08,874.70 74.08,874.58 74.09,874.46 74.09,874.33 74.09,874.20 74.09,874.07 74.10,873.93 74.10,873.79 74.10,873.64 74.10,873.50 74.11,873.34 74.11,873.19 74.11,873.02 74.12,872.86 74.12,872.69 74.12,872.51 74.13,872.33 74.13,872.15 74.13,871.96 74.14,871.76 74.14,871.56 74.15,871.36 74.15,871.15 74.16,870.93 74.16,870.71 74.16,870.48 74.17,870.24 74.17,870.00 74.18,869.75 74.18,869.50 74.19,869.24 74.20,868.97 74.20,868.70 74.21,868.42 74.21,868.13 74.22,867.83 74.23,867.53 74.23,867.22 74.24,866.90 74.25,866.57 74.25,866.23 74.26,865.89 74.27,865.54 74.28,865.17 74.28,864.80 74.29,864.42 74.30,864.03 74.31,863.63 74.32,863.22 74.33,862.80 74.34,862.37 74.35,861.93 74.36,861.48 74.37,861.02 74.38,860.55 74.39,860.07 74.40,859.57 74.41,859.07 74.43,858.55 74.44,858.02 74.45,857.48 74.46,856.92 74.48,856.36 74.49,855.78 74.51,855.19 74.52,854.58 74.54,853.96 74.55,853.33 74.57,852.69 74.58,852.03 74.60,851.36 74.62,850.67 74.64,849.97 74.66,849.25 74.67,848.52 74.69,847.78 74.71,847.02 74.73,846.25 74.76,845.46 74.78,844.66 74.80,843.84 74.82,843.00 74.85,842.15 74.87,841.29 74.90,840.41 74.92,839.51 74.95,838.60 74.98,837.68 75.01,836.74 75.04,835.78 75.07,834.81 75.10,833.82 75.13,832.82 75.16,831.80 75.20,830.76 75.23,829.71 75.27,828.65 75.31,827.57 75.34,826.48 75.38,825.37 75.42,824.25 75.46,823.11 75.51,821.96 75.55,820.80 75.60,819.62 75.64,818.43 75.69,817.22 75.74,816.00 75.79,814.77 75.84,813.53 75.90,812.28 75.95,811.01 76.01,809.74 76.07,808.45 76.13,807.15 76.19,805.85 76.25,804.53 76.32,803.21 76.39,801.87 76.46,800.53 76.53,799.18 76.60,797.83 76.68,796.46 76.76,795.09 76.84,793.72 76.92,792.34 77.00,790.96 77.09,789.57 77.18,788.18 77.27,786.79 77.37,785.39 77.47,783.99 77.57,782.60 77.67,781.20 77.78,779.80 77.89,778.40 78.00,777.00 78.12,775.61 78.24,774.22 78.37,772.83 78.49,771.44 78.62,770.06 78.76,768.69 78.90,767.31 79.04,765.95 79.19,764.59 79.34,763.24 79.49,761.89 79.65,760.55 79.82,759.22 79.99,757.90 80.16,756.59 80.34,755.29 80.53,754.00 80.72,752.72 80.91,751.45 81.11,750.19 81.32,748.94 81.54,747.71 81.76,746.48 81.98,745.27 82.21,744.07 82.45,742.89 82.70,741.72 82.95,740.56 83.21,739.42 83.48,738.29 83.76,737.17 84.04,736.07 84.34,734.99 84.64,733.92 84.95,732.86 85.27,731.82 85.60,730.80 85.93,729.78 86.28,728.79 86.64,727.81 87.01,726.85 87.39,725.90 87.78,724.96 88.18,724.05 88.59,723.14 89.02,722.26 89.46,721.38 89.91,720.53 90.37,719.69 90.85,718.86 91.34,718.05 91.85,717.26 92.37,716.48 92.90,715.71 93.45,714.96 94.02,714.22 94.60,713.50 95.21,712.79 95.82,712.10 96.46,711.42 97.11,710.76 97.79,710.10 98.48,709.47 99.20,708.84 99.93,708.23 100.69,707.63 101.46,707.05 102.27,706.47 103.09,705.91 103.94,705.37 104.81,704.83 105.71,704.31 106.63,703.80 107.58,703.30 108.56,702.81 109.57,702.33 110.61,701.86 111.68,701.41 112.77,700.96 113.90,700.53 115.07,700.11 116.27,699.69 117.50,699.29 118.77,698.89 120.07,698.51 121.41,698.13 122.80,697.77 124.22,697.41 125.68,697.06 127.19,696.72 128.74,696.39 130.34,696.07 131.98,695.75 133.67,695.44 135.41,695.14 137.20,694.85 139.04,694.57 140.94,694.29 142.89,694.02 144.90,693.75 146.97,693.50 149.09,693.25 151.28,693.00 153.54,692.77 155.86,692.53 158.24,692.31 160.70,692.09 163.23,691.88 165.83,691.67 168.50,691.46 171.26,691.27 174.10,691.08 177.01,690.89 180.02,690.71 183.11,690.53 186.29,690.36 189.56,690.19 192.93,690.02 196.40,689.86 199.97,689.71 203.64,689.56 207.42,689.41 211.31,689.27 215.31,689.13 219.43,688.99 223.67,688.86 228.04,688.73 232.53,688.61 237.15,688.49 241.91,688.37 246.80,688.26 251.84,688.14 257.03,688.04 262.36,687.93 267.85,687.83 273.51,687.73 279.32,687.63 285.31,687.54 291.47,687.44 297.81,687.35 304.34,687.27 311.05,687.18 317.96,687.10 325.08,687.02 332.40,686.94 339.93,686.87 347.68,686.79 355.66,686.72" fill="none" stroke="#1428d0" stroke-width="1.8" clip-path="url(#clipe)"/>
<polyline points="74.25,826.47 74.26,826.29 74.27,826.10 74.27,825.91 74.28,825.73 74.29,825.54 74.29,825.35 74.30,825.15 74.31,824.96 74.31,824.77 74.32,824.57 74.33,824.38 74.34,824.18 74.34,823.98 74.35,823.78 74.36,823.58 74.37,823.38 74.38,823.18 74.39,822.97 74.40,822.77 74.40,822.56 74.41,822.36 74.42,822.15 74.43,821.94 74.44,821.73 74.46,821.51 74.47,821.30 74.48,821.09 74.49,820.87 74.50,820.65 74.51,820.44 74.52,820.22 74.54,819.99 74.55,819.77 74.56,819.55 74.58,819.32 74.59,819.10 74.60,818.87 74.62,818.64 74.63,818.41 74.65,818.18 74.66,817.95 74.68,817.72 74.69,817.48 74.71,817.24 74.73,817.01 74.74,816.77 74.76,816.53 74.78,816.28 74.80,816.04 74.82,815.80 74.84,815.55 74.86,815.30 74.88,815.05 74.90,814.80 74.92,814.55 74.94,814.30 74.96,814.04 74.98,813.79 75.01,813.53 75.03,813.27 75.06,813.01 75.08,812.74 75.11,812.48 75.13,812.21 75.16,811.95 75.19,811.68 75.21,811.41 75.24,811.14 75.27,810.86 75.30,810.59 75.33,810.31 75.37,810.03 75.40,809.75 75.43,809.47 75.46,809.19 75.50,808.90 75.53,808.62 75.57,808.33 75.61,808.04 75.65,807.75 75.69,807.45 75.73,807.16 75.77,806.86 75.81,806.56 75.85,806.26 75.89,805.96 75.94,805.66 75.98,805.35 76.03,805.04 76.08,804.73 76.13,804.42 76.18,804.11 76.23,803.79 76.28,803.48 76.34,803.16 76.39,802.84 76.45,802.51 76.51,802.19 76.57,801.86 76.63,801.53 76.69,801.20 76.75,800.87 76.82,800.54 76.88,800.20 76.95,799.86 77.02,799.52 77.09,799.18 77.17,798.83 77.24,798.49 77.32,798.14 77.40,797.79 77.48,797.43 77.56,797.08 77.64,796.72 77.73,796.36 77.82,796.00 77.91,795.64 78.00,795.27 78.10,794.90 78.19,794.53 78.29,794.16 78.39,793.78 78.50,793.41 78.60,793.03 78.71,792.64 78.82,792.26 78.94,791.87 79.06,791.48 79.17,791.09 79.30,790.70 79.42,790.30 79.55,789.90 79.68,789.50 79.82,789.10 79.95,788.69 80.09,788.28 80.24,787.87 80.39,787.46 80.54,787.04 80.69,786.62 80.85,786.20 81.01,785.78 81.18,785.35 81.35,784.92 81.52,784.49 81.70,784.05 81.88,783.62 82.07,783.18 82.26,782.73 82.45,782.29 82.65,781.84 82.86,781.39 83.07,780.93 83.28,780.48 83.50,780.02 83.73,779.56 83.96,779.09 84.19,778.62 84.43,778.15 84.68,777.68 84.93,777.20 85.19,776.72 85.46,776.24 85.73,775.75 86.00,775.26 86.29,774.77 86.58,774.27 86.88,773.77 87.18,773.27 87.49,772.77 87.81,772.26 88.14,771.75 88.47,771.23 88.81,770.71 89.17,770.19 89.52,769.67 89.89,769.14 90.27,768.61 90.65,768.07 91.05,767.54 91.45,766.99 91.86,766.45 92.28,765.90 92.72,765.35 93.16,764.79 93.61,764.23 94.08,763.67 94.55,763.10 95.04,762.53 95.53,761.96 96.04,761.38 96.56,760.80 97.10,760.22 97.64,759.63 98.20,759.04 98.78,758.44 99.36,757.84 99.96,757.24 100.57,756.63 101.20,756.02 101.85,755.40 102.51,754.78 103.18,754.16 103.87,753.53 104.58,752.90 105.30,752.26 106.04,751.62 106.80,750.98 107.57,750.33 108.37,749.68 109.18,749.02 110.01,748.36 110.86,747.69 111.73,747.02 112.63,746.35 113.54,745.67 114.48,744.99 115.43,744.30 116.41,743.61 117.42,742.91 118.44,742.21 119.49,741.50 120.57,740.79 121.67,740.07 122.80,739.35 123.95,738.63 125.13,737.90 126.34,737.17 127.58,736.43 128.85,735.68 130.14,734.93 131.47,734.18 132.83,733.42 134.22,732.65 135.65,731.88 137.10,731.11 138.60,730.33 140.12,729.54 141.69,728.75 143.29,727.96 144.93,727.16 146.61,726.35 148.32,725.54 150.08,724.72 151.88,723.90 153.72,723.07 155.61,722.24 157.54,721.40 159.51,720.55 161.53,719.70 163.60,718.85 165.72,717.98 167.89,717.12 170.11,716.24 172.39,715.36 174.71,714.48 177.09,713.58 179.53,712.69 182.03,711.78 184.58,710.87 187.20,709.95 189.87,709.03 192.61,708.10 195.42,707.17 198.29,706.23 201.23,705.28 204.24,704.32 207.32,703.36 210.47,702.39 213.70,701.42 217.00,700.44 220.39,699.45 223.85,698.46 227.39,697.45 231.02,696.45 234.73,695.43 238.53,694.41 242.42,693.38 246.41,692.34 250.48,691.30 254.66,690.25 258.93,689.19 263.30,688.12 267.78,687.05 272.36,685.97 277.06,684.88 281.86,683.79 286.77,682.68 291.80,681.57 296.96,680.45 302.23,679.33 307.63,678.19 313.15,677.05 318.81,675.90 324.60,674.74 330.52,673.58 336.59,672.40 342.80,671.22 349.16,670.03 355.66,668.83" fill="none" stroke="#8a3c8c" stroke-width="1.8" stroke-dasharray="4,3" clip-path="url(#clipe)"/>
<polyline points="74.00,878.44 74.00,877.80 74.00,877.16 74.00,876.52 74.00,875.89 74.00,875.25 74.01,874.61 74.01,873.97 74.01,873.33 74.01,872.69 74.01,872.06 74.01,871.42 74.01,870.78 74.01,870.14 74.01,869.50 74.01,868.86 74.01,868.23 74.01,867.59 74.01,866.95 74.01,866.31 74.01,865.67 74.01,865.03 74.01,864.40 74.01,863.76 74.01,863.12 74.01,862.48 74.01,861.84 74.01,861.20 74.01,860.57 74.01,859.93 74.01,859.29 74.01,858.65 74.01,858.01 74.01,857.37 74.01,856.74 74.01,856.10 74.02,855.46 74.02,854.82 74.02,854.18 74.02,853.54 74.02,852.91 74.02,852.27 74.02,851.63 74.02,850.99 74.02,850.35 74.02,849.71 74.02,849.08 74.02,848.44 74.02,847.80 74.03,847.16 74.03,846.52 74.03,845.88 74.03,845.25 74.03,844.61 74.03,843.97 74.03,843.33 74.03,842.69 74.03,842.05 74.04,841.42 74.04,840.78 74.04,840.14 74.04,839.50 74.04,838.86 74.04,838.22 74.04,837.58 74.05,836.95 74.05,836.31 74.05,835.67 74.05,835.03 74.05,834.39 74.05,833.75 74.06,833.12 74.06,832.48 74.06,831.84 74.06,831.20 74.07,830.56 74.07,829.92 74.07,829.29 74.07,828.65 74.08,828.01 74.08,827.37 74.08,826.73 74.09,826.09 74.09,825.46 74.09,824.82 74.10,824.18 74.10,823.54 74.10,822.90 74.11,822.26 74.11,821.63 74.12,820.99 74.12,820.35 74.12,819.71 74.13,819.07 74.13,818.43 74.14,817.80 74.14,817.16 74.15,816.52 74.15,815.88 74.16,815.24 74.17,814.60 74.17,813.97 74.18,813.33 74.19,812.69 74.19,812.05 74.20,811.41 74.21,810.77 74.22,810.14 74.22,809.50 74.23,808.86 74.24,808.22 74.25,807.58 74.26,806.94 74.27,806.31 74.28,805.67 74.29,805.03 74.30,804.39 74.31,803.75 74.33,803.11 74.34,802.48 74.35,801.84 74.36,801.20 74.38,800.56 74.39,799.92 74.41,799.28 74.42,798.65 74.44,798.01 74.45,797.37 74.47,796.73 74.49,796.09 74.51,795.45 74.53,794.82 74.55,794.18 74.57,793.54 74.59,792.90 74.61,792.26 74.64,791.62 74.66,790.99 74.68,790.35 74.71,789.71 74.74,789.07 74.77,788.43 74.79,787.79 74.82,787.16 74.86,786.52 74.89,785.88 74.92,785.24 74.96,784.60 74.99,783.96 75.03,783.33 75.07,782.69 75.11,782.05 75.15,781.41 75.20,780.77 75.24,780.13 75.29,779.50 75.34,778.86 75.39,778.22 75.44,777.58 75.49,776.94 75.55,776.30 75.61,775.67 75.67,775.03 75.73,774.39 75.80,773.75 75.87,773.11 75.94,772.47 76.01,771.84 76.09,771.20 76.17,770.56 76.25,769.92 76.33,769.28 76.42,768.64 76.51,768.01 76.61,767.37 76.71,766.73 76.81,766.09 76.92,765.45 77.03,764.81 77.14,764.18 77.26,763.54 77.38,762.90 77.51,762.26 77.64,761.62 77.78,760.98 77.93,760.35 78.07,759.71 78.23,759.07 78.39,758.43 78.55,757.79 78.73,757.15 78.91,756.52 79.09,755.88 79.28,755.24 79.48,754.60 79.69,753.96 79.91,753.32 80.13,752.69 80.36,752.05 80.60,751.41 80.85,750.77 81.11,750.13 81.38,749.49 81.66,748.86 81.95,748.22 82.25,747.58 82.57,746.94 82.89,746.30 83.23,745.66 83.58,745.03 83.94,744.39 84.32,743.75 84.71,743.11 85.11,742.47 85.53,741.83 85.97,741.20 86.42,740.56 86.89,739.92 87.38,739.28 87.89,738.64 88.41,738.00 88.96,737.36 89.52,736.73 90.11,736.09 90.72,735.45 91.36,734.81 92.01,734.17 92.69,733.53 93.40,732.90 94.14,732.26 94.90,731.62 95.69,730.98 96.51,730.34 97.36,729.70 98.25,729.07 99.17,728.43 100.12,727.79 101.11,727.15 102.13,726.51 103.20,725.87 104.30,725.24 105.45,724.60 106.64,723.96 107.88,723.32 109.16,722.68 110.49,722.04 111.87,721.41 113.31,720.77 114.79,720.13 116.34,719.49 117.94,718.85 119.60,718.21 121.33,717.58 123.12,716.94 124.98,716.30 126.91,715.66 128.91,715.02 130.99,714.38 133.15,713.75 135.39,713.11 137.71,712.47 140.13,711.83 142.63,711.19 145.23,710.55 147.92,709.92 150.72,709.28 153.63,708.64 156.64,708.00 159.77,707.36 163.02,706.72 166.39,706.09 169.88,705.45 173.51,704.81 177.28,704.17 181.19,703.53 185.25,702.89 189.46,702.26 193.83,701.62 198.37,700.98 203.08,700.34 207.96,699.70 213.03,699.06 218.30,698.43 223.76,697.79 229.43,697.15 235.31,696.51 241.42,695.87 247.76,695.23 254.34,694.60 261.16,693.96 268.25,693.32 275.60,692.68 283.23,692.04 291.15,691.40 299.37,690.77 307.91,690.13 316.76,689.49 325.95,688.85 335.49,688.21 345.39,687.57 355.66,686.94" fill="none" stroke="#2a8a35" stroke-width="1.8" clip-path="url(#clipe)"/>
<path d="M75.27 855.32V861.32M71.27 855.32h8M71.27 861.32h8" stroke="#000" stroke-width="1.8" fill="none"/>
<circle cx="75.27" cy="858.32" r="4.5" fill="url(#gK)"/>
<path d="M75.90 825.16V833.16M71.90 825.16h8M71.90 833.16h8" stroke="#000" stroke-width="1.8" fill="none"/>
<circle cx="75.90" cy="829.16" r="4.5" fill="url(#gK)"/>
<path d="M81.11 785.31V795.31M77.11 785.31h8M77.11 795.31h8" stroke="#000" stroke-width="1.8" fill="none"/>
<circle cx="81.11" cy="790.31" r="4.5" fill="url(#gK)"/>
<path d="M105.72 704.90V716.90M101.72 704.90h8M101.72 716.90h8" stroke="#000" stroke-width="1.8" fill="none"/>
<circle cx="105.72" cy="710.90" r="4.5" fill="url(#gK)"/>
<path d="M133.38 694.52V704.52M129.38 694.52h8M129.38 704.52h8" stroke="#000" stroke-width="1.8" fill="none"/>
<circle cx="133.38" cy="699.52" r="4.5" fill="url(#gK)"/>
<path d="M179.05 682.93V693.93M175.05 682.93h8M175.05 693.93h8" stroke="#000" stroke-width="1.8" fill="none"/>
<circle cx="179.05" cy="688.43" r="4.5" fill="url(#gK)"/>
<path d="M222.95 682.13V688.13M218.95 682.13h8M218.95 688.13h8" stroke="#000" stroke-width="1.8" fill="none"/>
<circle cx="222.95" cy="685.13" r="4.5" fill="url(#gK)"/>
<path d="M294.76 677.64V687.64M290.76 677.64h8M290.76 687.64h8" stroke="#000" stroke-width="1.8" fill="none"/>
<circle cx="294.76" cy="682.64" r="4.5" fill="url(#gK)"/>
<path d="M355.92 675.14V681.14M351.92 675.14h8M351.92 681.14h8" stroke="#000" stroke-width="1.8" fill="none"/>
<circle cx="355.92" cy="678.14" r="4.5" fill="url(#gK)"/>
<rect x="70.20" y="629.20" width="308.20" height="249.70" fill="none" stroke="#000" stroke-width="2.0"/>
<path d="M74.00 878.90v5 M124.75 878.90v5 M175.50 878.90v5 M226.25 878.90v5 M277.00 878.90v5 M327.75 878.90v5 M378.50 878.90v5 M99.38 878.90v3 M150.12 878.90v3 M200.88 878.90v3 M251.63 878.90v3 M302.38 878.90v3 M353.12 878.90v3 M70.20 878.90h-5 M70.20 828.96h-5 M70.20 779.02h-5 M70.20 729.08h-5 M70.20 679.14h-5 M70.20 629.20h-5 M70.20 853.93h-3 M70.20 803.99h-3 M70.20 754.05h-3 M70.20 704.11h-3 M70.20 654.17h-3" stroke="#000" stroke-width="2.0" fill="none"/>
<circle cx="291.60" cy="817.00" r="4.5" fill="url(#gK)"/>
<path d="M275.8 833.9H306.7" stroke="#1428d0" stroke-width="2"/>
<path d="M275.8 850.4H306.7" stroke="#8a3c8c" stroke-width="2" stroke-dasharray="5.2,3.4"/>
<path d="M275.8 867H306.7" stroke="#2a8a35" stroke-width="2"/>
<polyline points="480.63,646.49 606.66,685.66 742.56,794.50" fill="none" stroke="#777" stroke-width="1.1" stroke-linejoin="round"/>
<polyline points="480.63,821.80 606.66,840.88 742.56,875.05" fill="none" stroke="#e06070" stroke-width="1.1" stroke-linejoin="round"/>
<circle cx="480.63" cy="646.49" r="3.8" fill="url(#gK)"/>
<circle cx="606.66" cy="685.66" r="3.8" fill="url(#gK)"/>
<circle cx="742.56" cy="794.50" r="3.8" fill="url(#gK)"/>
<circle cx="480.63" cy="821.80" r="3.8" fill="url(#gR)"/>
<circle cx="606.66" cy="840.88" r="3.8" fill="url(#gR)"/>
<circle cx="742.56" cy="875.05" r="3.8" fill="url(#gR)"/>
<rect x="456.10" y="635.40" width="309.70" height="249.70" fill="none" stroke="#000" stroke-width="2.0"/>
<path d="M487.80 885.10v5 M549.58 885.10v5 M611.35 885.10v5 M673.12 885.10v5 M734.90 885.10v5 M456.91 885.10v3 M518.69 885.10v3 M580.46 885.10v3 M642.24 885.10v3 M704.01 885.10v3 M765.79 885.10v3 M456.10 857.30h-5 M456.10 801.82h-5 M456.10 746.35h-5 M456.10 690.88h-5 M456.10 635.40h-5 M456.10 885.04h-3 M456.10 829.56h-3 M456.10 774.09h-3 M456.10 718.61h-3 M456.10 663.14h-3" stroke="#000" stroke-width="2.0" fill="none"/>
<path d="M649 651.4H679.2" stroke="#777" stroke-width="1.1"/>
<circle cx="664.10" cy="651.40" r="3.6" fill="url(#gK)"/>
<path d="M649 667.3H679.2" stroke="#e06070" stroke-width="1.1"/>
<circle cx="664.10" cy="667.30" r="3.6" fill="url(#gR)"/>
<g font-size="12.57" font-weight="bold" fill="#151515"><text transform="translate(44.00,264.59) scale(0.983,1)">0</text><text transform="translate(43.75,238.21) scale(0.983,1)">5</text><text transform="translate(37.08,211.96) scale(0.983,1)">10</text><text transform="translate(36.95,185.59) scale(0.983,1)">15</text><text transform="translate(37.08,159.34) scale(0.983,1)">20</text><text transform="translate(36.95,133.03) scale(0.983,1)">25</text><text transform="translate(37.08,106.72) scale(0.983,1)">30</text><text transform="translate(36.95,80.41) scale(0.983,1)">35</text><text transform="translate(37.08,54.10) scale(0.983,1)">40</text><text transform="translate(36.95,27.72) scale(0.983,1)">45</text></g>
<g font-size="13.29" font-weight="bold" fill="#151515"><text transform="translate(78.04,293.70) scale(0.891,1)">2</text><text transform="translate(122.27,293.63) scale(0.891,1)">3</text><text transform="translate(166.26,293.63) scale(0.891,1)">4</text><text transform="translate(210.49,293.57) scale(0.891,1)">5</text><text transform="translate(254.65,293.63) scale(0.891,1)">6</text><text transform="translate(298.88,293.70) scale(0.891,1)">7</text><text transform="translate(342.99,293.63) scale(0.891,1)">8</text></g>
<g font-size="13.38" font-weight="bold" fill="#151515"><text transform="translate(423.21,278.27) scale(0.922,1)">0</text><text transform="translate(416.30,215.82) scale(0.922,1)">10</text><text transform="translate(416.30,153.37) scale(0.922,1)">20</text><text transform="translate(416.30,90.92) scale(0.922,1)">30</text><text transform="translate(416.30,28.47) scale(0.922,1)">40</text></g>
<g font-size="12.54" font-weight="bold" fill="#151515"><text transform="translate(435.92,292.57) scale(1.110,1)">0</text><text transform="translate(505.25,292.57) scale(1.110,1)">400</text><text transform="translate(582.15,292.57) scale(1.110,1)">800</text><text transform="translate(655.09,292.57) scale(1.110,1)">1200</text><text transform="translate(732.07,292.57) scale(1.110,1)">1600</text></g>
<g font-size="13.94" font-weight="bold" fill="#151515"><text transform="translate(48.35,577.96) scale(1.048,1)">0</text><text transform="translate(40.16,528.28) scale(1.048,1)">10</text><text transform="translate(40.16,478.60) scale(1.048,1)">20</text><text transform="translate(40.16,428.92) scale(1.048,1)">30</text><text transform="translate(40.16,379.24) scale(1.048,1)">40</text><text transform="translate(40.16,329.56) scale(1.048,1)">50</text></g>
<g font-size="15.63" font-weight="bold" fill="#151515"><text transform="translate(62.38,594.24) scale(0.978,1)">0</text><text transform="translate(92.49,594.24) scale(0.978,1)">200</text><text transform="translate(131.15,594.24) scale(0.978,1)">400</text><text transform="translate(169.59,594.24) scale(0.978,1)">600</text><text transform="translate(208.25,594.24) scale(0.978,1)">800</text><text transform="translate(242.41,594.24) scale(0.978,1)">1000</text><text transform="translate(281.00,594.24) scale(0.978,1)">1200</text><text transform="translate(319.58,594.24) scale(0.978,1)">1400</text><text transform="translate(358.17,594.24) scale(0.978,1)">1600</text></g>
<g font-size="13.24" font-weight="bold" fill="#151515"><text transform="translate(433.52,582.77) scale(0.930,1)">0</text><text transform="translate(426.63,520.42) scale(0.930,1)">50</text><text transform="translate(419.73,458.07) scale(0.930,1)">100</text><text transform="translate(419.73,395.72) scale(0.930,1)">150</text><text transform="translate(419.73,333.37) scale(0.930,1)">200</text></g>
<g font-size="13.10" font-weight="bold" fill="#151515"><text transform="translate(448.37,597.57) scale(0.927,1)">0</text><text transform="translate(488.75,597.57) scale(0.927,1)">20</text><text transform="translate(532.52,597.57) scale(0.927,1)">40</text><text transform="translate(576.11,597.57) scale(0.927,1)">60</text><text transform="translate(619.89,597.57) scale(0.927,1)">80</text><text transform="translate(660.02,597.57) scale(0.927,1)">100</text><text transform="translate(703.74,597.57) scale(0.927,1)">120</text><text transform="translate(747.45,597.57) scale(0.927,1)">140</text></g>
<g font-size="11.83" font-weight="bold" fill="#151515"><text transform="translate(53.74,881.78) scale(1.004,1)">0</text><text transform="translate(47.09,831.84) scale(1.004,1)">50</text><text transform="translate(40.44,781.90) scale(1.004,1)">100</text><text transform="translate(40.44,731.96) scale(1.004,1)">150</text><text transform="translate(40.44,682.02) scale(1.004,1)">200</text><text transform="translate(40.44,632.08) scale(1.004,1)">250</text></g>
<g font-size="12.39" font-weight="bold" fill="#151515"><text transform="translate(70.41,896.38) scale(1.040,1)">0</text><text transform="translate(117.61,896.38) scale(1.040,1)">20</text><text transform="translate(168.43,896.38) scale(1.040,1)">40</text><text transform="translate(219.05,896.38) scale(1.040,1)">60</text><text transform="translate(269.86,896.38) scale(1.040,1)">80</text><text transform="translate(316.81,896.38) scale(1.040,1)">100</text><text transform="translate(367.56,896.38) scale(1.040,1)">120</text></g>
<g font-size="16.29" font-weight="bold" fill="#151515"><text transform="translate(417.60,861.82) scale(0.918,1)">12.5</text><text transform="translate(417.90,806.34) scale(0.918,1)">13.0</text><text transform="translate(417.60,750.87) scale(0.918,1)">13.5</text><text transform="translate(417.90,695.39) scale(0.918,1)">14.0</text><text transform="translate(417.60,639.84) scale(0.918,1)">14.5</text></g>
<g font-size="15.35" font-weight="bold" fill="#151515"><text transform="translate(459.79,904.55) scale(1.000,1)">0.00315</text><text transform="translate(521.71,904.55) scale(1.000,1)">0.00320</text><text transform="translate(583.34,904.55) scale(1.000,1)">0.00325</text><text transform="translate(645.26,904.55) scale(1.000,1)">0.00330</text><text transform="translate(706.89,904.55) scale(1.000,1)">0.00335</text></g>
<text transform="translate(196.11,315.28) scale(1.019,1)" font-size="15.33" font-weight="bold" fill="#151515">pH</text>
<text transform="translate(26.50,175.83) rotate(-90) scale(1.087,1)" font-size="14.49" font-weight="bold" fill="#151515">Q<tspan font-size="0.55em" dy="0.12em">e</tspan><tspan dy="-0.12em"> (mg/g)</tspan></text>
<text transform="translate(64.74,47.71) scale(0.944,1)" font-size="20.43" font-weight="bold" fill="#151515">(a)</text>
<text transform="translate(335.99,236.36) scale(1.096,1)" font-size="13.94" font-weight="bold" fill="#151515">Cu</text>
<text transform="translate(335.99,255.57) scale(1.154,1)" font-size="13.24" font-weight="bold" fill="#151515">Cd</text>
<text transform="translate(569.75,316.90) scale(1.109,1)" font-size="13.83" font-weight="bold" fill="#151515">t (min)</text>
<text transform="translate(406.97,179.91) rotate(-90) scale(1.120,1)" font-size="13.66" font-weight="bold" fill="#151515">Q<tspan font-size="0.6em" dy="0.2em">t</tspan><tspan dy="-0.2em"> (mg/g)</tspan></text>
<text transform="translate(447.33,48.94) scale(0.931,1)" font-size="20.74" font-weight="bold" fill="#151515">(b)</text>
<text transform="translate(195.45,615.99) scale(1.238,1)" font-size="12.45" font-weight="bold" fill="#151515">t (min.)</text>
<text transform="translate(34.59,483.42) rotate(-90) scale(1.033,1)" font-size="15.05" font-weight="bold" fill="#151515">Q<tspan font-size="0.6em" dy="0.2em">t</tspan><tspan dy="-0.2em"> (mg/g)</tspan></text>
<text transform="translate(68.65,352.39) scale(0.892,1)" font-size="23.40" font-weight="normal" fill="#151515">(c)</text>
<text transform="translate(537.19,617.76) scale(1.093,1)" font-size="13.85" font-weight="bold" fill="#151515">C<tspan font-size="0.85em" dy="0.3em">e</tspan><tspan dy="-0.3em"> (mg/L)</tspan></text>
<text transform="translate(414.12,492.72) rotate(-90) scale(0.998,1)" font-size="15.48" font-weight="bold" fill="#151515">Q<tspan font-size="0.85em" dy="0.3em">e</tspan><tspan dy="-0.3em"> (mg/g)</tspan></text>
<text transform="translate(463.35,350.79) scale(0.929,1)" font-size="20.53" font-weight="bold" fill="#151515">(d)</text>
<text transform="translate(185.88,914.21) scale(1.109,1)" font-size="14.04" font-weight="bold" fill="#151515">C<tspan font-size="0.85em" dy="0.3em">e</tspan><tspan dy="-0.3em"> (mg/L)</tspan></text>
<text transform="translate(34.41,793.14) rotate(-90) scale(0.977,1)" font-size="16.25" font-weight="bold" fill="#151515">Q<tspan font-size="0.85em" dy="0.3em">e</tspan><tspan dy="-0.3em"> (mg/g)</tspan></text>
<text transform="translate(76.41,646.56) scale(1.082,1)" font-size="20.21" font-weight="bold" fill="#151515">(e)</text>
<text transform="translate(600.01,934.76) scale(1.143,1)" font-size="14.46" font-weight="bold" fill="#151515">1/T</text>
<text transform="translate(410.75,778.89) rotate(-90) scale(1.066,1)" font-size="14.59" font-weight="bold" fill="#151515">ln Kc</text>
<text transform="translate(459.95,679.26) scale(1.039,1)" font-size="20.21" font-weight="bold" fill="#151515">(f)</text>
<text x="713.01" y="220.90" font-size="11.88" font-weight="normal" letter-spacing="1.21" fill="#151515" stroke="#151515" stroke-width="0.3">Cu</text>
<text x="712.66" y="237.50" font-size="11.74" font-weight="normal" letter-spacing="0.97" fill="#151515" stroke="#151515" stroke-width="0.3">PFO</text>
<text x="712.67" y="254.00" font-size="11.59" font-weight="normal" letter-spacing="1.07" fill="#151515" stroke="#151515" stroke-width="0.3">PSO</text>
<text x="712.53" y="270.00" font-size="11.88" font-weight="normal" letter-spacing="0.66" fill="#151515" stroke="#151515" stroke-width="0.3">IPD</text>
<text x="338.81" y="508.10" font-size="11.88" font-weight="normal" letter-spacing="1.41" fill="#151515" stroke="#151515" stroke-width="0.3">Cd</text>
<text x="338.45" y="525.00" font-size="11.88" font-weight="normal" letter-spacing="0.93" fill="#151515" stroke="#151515" stroke-width="0.3">PFO</text>
<text x="338.45" y="540.80" font-size="11.88" font-weight="normal" letter-spacing="0.43" fill="#151515" stroke="#151515" stroke-width="0.3">PSO</text>
<text x="338.29" y="557.50" font-size="12.32" font-weight="normal" letter-spacing="0.18" fill="#151515" stroke="#151515" stroke-width="0.3">IPD</text>
<text x="680.67" y="523.30" font-size="12.61" font-weight="normal" letter-spacing="0.67" fill="#151515" stroke="#151515" stroke-width="0.45">Cu</text>
<text x="680.35" y="539.60" font-size="11.88" font-weight="normal" letter-spacing="1.45" fill="#151515" stroke="#151515" stroke-width="0.45">Langmuir</text>
<text x="680.37" y="555.70" font-size="11.59" font-weight="normal" letter-spacing="1.34" fill="#151515" stroke="#151515" stroke-width="0.45">Freundlich</text>
<text x="681.05" y="572.00" font-size="12.32" font-weight="normal" letter-spacing="1.11" fill="#151515" stroke="#151515" stroke-width="0.45">Temkin</text>
<text x="309.37" y="821.80" font-size="12.61" font-weight="normal" letter-spacing="0.57" fill="#151515" stroke="#151515" stroke-width="0.45">Cd</text>
<text x="309.08" y="837.60" font-size="11.45" font-weight="normal" letter-spacing="1.64" fill="#151515" stroke="#151515" stroke-width="0.45">Langmuir</text>
<text x="308.99" y="854.20" font-size="12.61" font-weight="normal" letter-spacing="0.79" fill="#151515" stroke="#151515" stroke-width="0.45">Freundlich</text>
<text x="309.74" y="871.10" font-size="13.19" font-weight="normal" letter-spacing="0.54" fill="#151515" stroke="#151515" stroke-width="0.45">Temkin</text>
<text x="682.91" y="655.10" font-size="11.88" font-weight="normal" letter-spacing="1.11" fill="#151515" stroke="#151515" stroke-width="0.45">Cd</text>
<text x="682.93" y="671.70" font-size="11.30" font-weight="normal" letter-spacing="1.79" fill="#151515" stroke="#151515" stroke-width="0.45">Cu</text>
</svg></body></html>
